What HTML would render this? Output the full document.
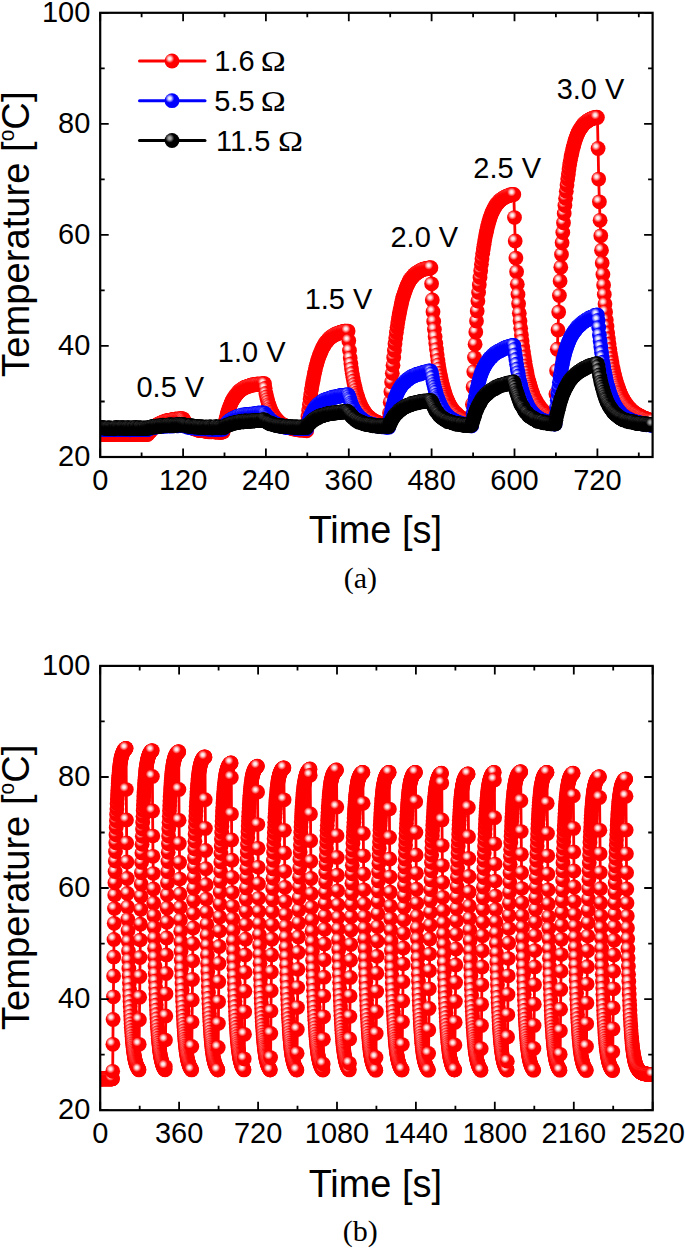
<!DOCTYPE html><html><head><meta charset="utf-8"><title>Temperature vs time</title>
<style>html,body{margin:0;padding:0;background:#fff}svg{display:block}text{font-family:"Liberation Sans", Arial, sans-serif;fill:#000}.s{font-family:"Liberation Serif", "Times New Roman", serif}</style></head><body>
<svg width="685" height="1248" viewBox="0 0 685 1248">
<rect width="685" height="1248" fill="#fff"/>
<defs>
<radialGradient id="gr" cx="0.35" cy="0.34" r="0.30" fx="0.35" fy="0.34"><stop offset="0" stop-color="#ffffff"/><stop offset="0.35" stop-color="#ffffff" stop-opacity="0.85"/><stop offset="1" stop-color="#ffffff" stop-opacity="0"/></radialGradient>
<marker id="mr" markerUnits="userSpaceOnUse" markerWidth="16" markerHeight="16" refX="8" refY="8" overflow="visible"><circle cx="8" cy="8" r="7.4" fill="#ff0000"/><circle cx="8" cy="8" r="7.4" fill="url(#gr)"/></marker>
<radialGradient id="gb" cx="0.35" cy="0.34" r="0.30" fx="0.35" fy="0.34"><stop offset="0" stop-color="#ffffff"/><stop offset="0.35" stop-color="#ffffff" stop-opacity="0.85"/><stop offset="1" stop-color="#ffffff" stop-opacity="0"/></radialGradient>
<marker id="mb" markerUnits="userSpaceOnUse" markerWidth="16" markerHeight="16" refX="8" refY="8" overflow="visible"><circle cx="8" cy="8" r="7.4" fill="#0000ff"/><circle cx="8" cy="8" r="7.4" fill="url(#gb)"/></marker>
<radialGradient id="gk" cx="0.35" cy="0.34" r="0.30" fx="0.35" fy="0.34"><stop offset="0" stop-color="#b0b0b0"/><stop offset="0.35" stop-color="#b0b0b0" stop-opacity="0.85"/><stop offset="1" stop-color="#b0b0b0" stop-opacity="0"/></radialGradient>
<marker id="mk" markerUnits="userSpaceOnUse" markerWidth="16" markerHeight="16" refX="8" refY="8" overflow="visible"><circle cx="8" cy="8" r="7.4" fill="#000000"/><circle cx="8" cy="8" r="7.4" fill="url(#gk)"/></marker>
<clipPath id="ca"><rect x="100.2" y="12.8" width="552.4" height="444.2"/></clipPath>
<clipPath id="cb"><rect x="100.2" y="665.9" width="552.5" height="444.3"/></clipPath>
</defs>
<g clip-path="url(#ca)"><polyline fill="none" stroke="#ff0000" stroke-width="2.8" stroke-linejoin="round" marker-start="url(#mr)" marker-mid="url(#mr)" marker-end="url(#mr)" points="100.2,434.3 100.9,434.1 101.6,434.3 102.3,434.3 103,434.4 103.7,434.3 104.3,434 105,434.2 105.7,434.1 106.4,434.2 107.1,434.2 107.8,434.2 108.5,434.5 109.2,434.1 109.9,434.2 110.6,434.2 111.2,434.5 111.9,434.5 112.6,434.4 113.3,434.3 114,434.2 114.7,434.2 115.4,434.1 116.1,434.3 116.8,434.2 117.5,434.2 118.2,434.3 118.8,433.9 119.5,434.1 120.2,434 120.9,434.3 121.6,434.4 122.3,434.3 123,434.3 123.7,434.1 124.4,434.2 125.1,434.3 125.7,434.4 126.4,434.3 127.1,434 127.8,434.4 128.5,434.2 129.2,434.2 129.9,434.5 130.6,434.2 131.3,434 132,434.6 132.7,434.3 133.3,434.3 134,434.4 134.7,434.2 135.4,434.2 136.1,434.5 136.8,434.1 137.5,434.1 138.2,434.1 138.9,434 139.6,434.2 140.2,434.2 140.9,434.5 141.6,434.1 142.3,434.3 143,434.3 143.7,434.4 144.4,434.4 145.1,434.3 145.8,434 146.5,434.6 147.2,434.5 147.8,434.2 148.5,433 149.2,432.2 149.9,431.8 150.6,431.1 151.3,429.8 152,429.3 152.7,428.7 153.4,427.7 154.1,427.1 154.7,426.7 155.4,426.1 156.1,425.6 156.8,424.9 157.5,424.7 158.2,424.3 158.9,423.9 159.6,423.9 160.3,423.1 161,422.8 161.7,422.6 162.3,422.7 163,422.2 163.7,421.7 164.4,421.9 165.1,421.4 165.8,421 166.5,421.2 167.2,420.6 167.9,420.6 168.6,420.5 169.2,420.3 169.9,420.1 170.6,420.1 171.3,419.8 172,419.9 172.7,419.8 173.4,419.5 174.1,419.5 174.8,419.6 175.5,419.2 176.2,419 176.8,419.3 177.5,419.4 178.2,419.1 178.9,419 179.6,419 180.3,418.6 181,419 181.7,418.6 182.4,418.9 183.1,418.8 183.8,420 184.4,421.3 185.1,422.4 185.8,423.3 186.5,424 187.2,424.6 187.9,425.1 188.6,425.8 189.3,426.2 190,426.6 190.7,427.1 191.3,427.3 192,427.7 192.7,427.8 193.4,428.3 194.1,428.7 194.8,429 195.5,429.1 196.2,429.2 196.9,429.6 197.6,429.6 198.3,429.6 198.9,430.5 199.6,430.4 200.3,430.3 201,430.4 201.7,430.5 202.4,430.7 203.1,430.6 203.8,430.8 204.5,431 205.2,430.6 205.8,431 206.5,431.3 207.2,431.3 207.9,431.3 208.6,431.4 209.3,431.9 210,431.5 210.7,431.3 211.4,431.8 212.1,431.6 212.8,431.5 213.4,431.5 214.1,431.5 214.8,432 215.5,431.8 216.2,431.9 216.9,431.7 217.6,431.7 218.3,432.4 219,431.8 219.7,432.2 220.3,431.9 221,432.3 221.7,432 222.4,431.8 223.1,432.1 223.8,428.4 224.5,425 225.2,422 225.9,419.1 226.6,416.2 227.3,413.8 227.9,411.8 228.6,409.2 229.3,407.9 230,405.7 230.7,404.2 231.4,402.6 232.1,401.1 232.8,399.8 233.5,398.5 234.2,397.7 234.8,396.7 235.5,395.4 236.2,394.7 236.9,393.9 237.6,393.2 238.3,392 239,391.4 239.7,390.7 240.4,390.5 241.1,389.8 241.8,389.5 242.4,388.8 243.1,388.2 243.8,388.2 244.5,387.5 245.2,387.2 245.9,387.1 246.6,387.1 247.3,386.3 248,386.3 248.7,386.2 249.3,385.8 250,385.6 250.7,385.2 251.4,385.5 252.1,385 252.8,384.8 253.5,384.6 254.2,384.8 254.9,384.8 255.6,384.4 256.3,384.4 256.9,384.3 257.6,384 258.3,384.2 259,384.5 259.7,384.1 260.4,384.3 261.1,383.8 261.8,383.8 262.5,383.9 263.2,383.8 263.8,383.6 264.5,383.7 265.2,388.3 265.9,393.4 266.6,396.8 267.3,399.6 268,402.1 268.7,404.6 269.4,406.4 270.1,408.6 270.8,410.2 271.4,411.8 272.1,412.7 272.8,414.4 273.5,415.4 274.2,416.5 274.9,417.5 275.6,418.5 276.3,419.2 277,419.7 277.7,420.8 278.3,421.4 279,421.9 279.7,422.7 280.4,423.4 281.1,423.8 281.8,424 282.5,424.9 283.2,425.1 283.9,425.2 284.6,425.6 285.3,426 285.9,426.2 286.6,426.6 287.3,427.1 288,427.4 288.7,427.5 289.4,427.4 290.1,427.9 290.8,428.1 291.5,428.3 292.2,428.6 292.8,428.5 293.5,428.9 294.2,428.7 294.9,429.3 295.6,429 296.3,429.3 297,429.6 297.7,429.3 298.4,429.6 299.1,430 299.8,429.9 300.4,429.8 301.1,430 301.8,429.8 302.5,429.9 303.2,430 303.9,430.1 304.6,430 305.3,430.2 306,430.3 306.7,430.8 307.3,423.1 308,416.4 308.7,410.4 309.4,404.7 310.1,399 310.8,394.6 311.5,389.6 312.2,385 312.9,381.6 313.6,377.7 314.3,374 314.9,371.2 315.6,368.1 316.3,365.3 317,363.1 317.7,360.6 318.4,358.3 319.1,356.2 319.8,354.4 320.5,352.7 321.2,351.2 321.9,349.6 322.5,348 323.2,346.8 323.9,345.7 324.6,344.6 325.3,343 326,342.2 326.7,341.4 327.4,341.1 328.1,339.8 328.8,339.1 329.4,338.2 330.1,337.8 330.8,337.3 331.5,336.7 332.2,336.6 332.9,335.6 333.6,335.3 334.3,335.1 335,334.4 335.7,334 336.4,334.2 337,333.8 337.7,333.3 338.4,333.1 339.1,332.9 339.8,332.8 340.5,332.1 341.2,332.1 341.9,332.3 342.6,332.1 343.3,331.5 343.9,331.5 344.6,331.2 345.3,331.2 346,331.4 346.7,331.1 347.4,331.4 348.1,331.1 348.8,340.8 349.5,350.6 350.2,358.1 350.9,363.8 351.5,368.8 352.2,373.3 352.9,377.3 353.6,381 354.3,384.5 355,387.4 355.7,390.3 356.4,393.1 357.1,395.5 357.8,397.6 358.4,399.7 359.1,401.5 359.8,403.3 360.5,404.8 361.2,406.4 361.9,407.9 362.6,408.9 363.3,410 364,411.2 364.7,412.3 365.4,413.2 366,414.3 366.7,415.2 367.4,415.7 368.1,416.6 368.8,416.9 369.5,417.9 370.2,418.7 370.9,419 371.6,419 372.3,419.8 372.9,420.5 373.6,420.8 374.3,421 375,421.3 375.7,421.7 376.4,421.8 377.1,422.3 377.8,422.7 378.5,422.9 379.2,423 379.9,423.3 380.5,423.6 381.2,424.1 381.9,424.2 382.6,424.2 383.3,424.6 384,424.6 384.7,424.8 385.4,424.9 386.1,425.3 386.8,425 387.4,425.3 388.1,425.7 388.8,425.8 389.5,413.1 390.2,402.3 390.9,391.7 391.6,382 392.3,373.3 393,365.2 393.7,357.4 394.4,350.4 395,343.8 395.7,337.9 396.4,332.5 397.1,327.3 397.8,322.7 398.5,318.4 399.2,314.4 399.9,310.8 400.6,307.2 401.3,304.4 401.9,301.4 402.6,298.6 403.3,296.4 404,293.9 404.7,292.1 405.4,289.9 406.1,287.9 406.8,286.3 407.5,284.8 408.2,283.5 408.9,282.3 409.5,280.6 410.2,279.7 410.9,278.6 411.6,278 412.3,277 413,276.4 413.7,275.3 414.4,274.6 415.1,274.4 415.8,273.5 416.4,272.8 417.1,272.7 417.8,272.3 418.5,271.7 419.2,271.3 419.9,271 420.6,270.5 421.3,270.1 422,269.8 422.7,269.5 423.4,269.1 424,268.9 424.7,269.2 425.4,268.8 426.1,268.7 426.8,268.6 427.5,268.3 428.2,268.1 428.9,267.9 429.6,268.1 430.3,268 430.9,267.7 431.6,283.8 432.3,299.9 433,311.7 433.7,321.4 434.4,329.4 435.1,336.8 435.8,343.4 436.5,349.6 437.2,355 437.9,360.5 438.5,364.8 439.2,368.9 439.9,373.1 440.6,376.4 441.3,379.8 442,383.1 442.7,385.8 443.4,388.4 444.1,390.7 444.8,392.9 445.4,395.1 446.1,397.2 446.8,398.8 447.5,400.5 448.2,401.9 448.9,403.4 449.6,404.9 450.3,406.2 451,407.2 451.7,408.4 452.4,409.4 453,410.2 453.7,411.2 454.4,411.9 455.1,412.6 455.8,413.5 456.5,413.7 457.2,414.8 457.9,415.2 458.6,415.9 459.3,416.3 460,417.4 460.6,417.6 461.3,417.9 462,418.2 462.7,418.3 463.4,419.1 464.1,419.3 464.8,419.7 465.5,420 466.2,420.4 466.9,420.8 467.5,421 468.2,421.5 468.9,421.4 469.6,422 470.3,422 471,422 471.7,422.6 472.4,404.2 473.1,387.1 473.8,371.7 474.5,357.6 475.1,344.2 475.8,332.1 476.5,320.9 477.2,310.9 477.9,301.1 478.6,292.4 479.3,284.7 480,277.4 480.7,270.7 481.4,264.2 482,258.8 482.7,253.3 483.4,248.7 484.1,244.3 484.8,240 485.5,236.1 486.2,232.8 486.9,229.8 487.6,226.6 488.3,224 489,221.5 489.6,219 490.3,217 491,215.3 491.7,213 492.4,211.8 493.1,210.2 493.8,209 494.5,207.6 495.2,206.7 495.9,205.1 496.5,204.1 497.2,203.7 497.9,202.9 498.6,202.1 499.3,200.9 500,200.6 500.7,199.9 501.4,199.4 502.1,198.8 502.8,198.5 503.5,197.9 504.1,197.8 504.8,197.2 505.5,196.8 506.2,196.4 506.9,196.3 507.6,196.1 508.3,195.7 509,195.6 509.7,195 510.4,195 511,194.9 511.7,194.8 512.4,194.7 513.1,194.6 513.8,194.4 514.5,217.6 515.2,241 515.9,258.1 516.6,271.8 517.3,284.2 518,294.6 518.6,303.8 519.3,313.3 520,321 520.7,328.2 521.4,334.9 522.1,341.1 522.8,346.9 523.5,352 524.2,356.9 524.9,361.3 525.5,365.8 526.2,369.5 526.9,372.8 527.6,376.3 528.3,379.3 529,381.8 529.7,384.6 530.4,386.8 531.1,389 531.8,391.2 532.5,393.1 533.1,395 533.8,396.9 534.5,398.2 535.2,399.6 535.9,401.1 536.6,402.3 537.3,403.4 538,404.8 538.7,405.6 539.4,406.4 540,407.7 540.7,408.5 541.4,409.3 542.1,409.8 542.8,410.8 543.5,411.4 544.2,412.3 544.9,412.8 545.6,413.4 546.3,414.3 547,414.3 547.6,414.8 548.3,415.8 549,415.8 549.7,416.4 550.4,416.7 551.1,417.1 551.8,417.8 552.5,417.9 553.2,418 553.9,418.7 554.5,419.1 555.2,419.4 555.9,394.1 556.6,370.7 557.3,349.2 558,330 558.7,312.1 559.4,295.4 560.1,280.9 560.8,267.2 561.5,254.4 562.1,242.8 562.8,232.5 563.5,222.8 564.2,213.6 564.9,205.5 565.6,198.3 566.3,191.2 567,185 567.7,179 568.4,173.9 569,169 569.7,164.6 570.4,160.3 571.1,156.5 571.8,153.4 572.5,150.1 573.2,147.4 573.9,144.7 574.6,142.1 575.3,139.8 576,138.1 576.6,136.2 577.3,134.4 578,133.1 578.7,131.5 579.4,130.3 580.1,128.9 580.8,128 581.5,127.2 582.2,125.9 582.9,125 583.5,124.4 584.2,123.4 584.9,122.9 585.6,122.4 586.3,121.7 587,121.5 587.7,120.9 588.4,120.4 589.1,119.8 589.8,119.6 590.5,119.2 591.1,119.1 591.8,118.7 592.5,118.2 593.2,118.3 593.9,117.6 594.6,117.9 595.3,117.6 596,117.4 596.7,117.2 597.4,117.4 598.1,148.5 598.7,179.1 599.4,201.8 600.1,220.3 600.8,235.8 601.5,250.2 602.2,262.9 602.9,274.4 603.6,285.1 604.3,294.6 605,304 605.6,312 606.3,320.1 607,326.4 607.7,333 608.4,338.7 609.1,344 609.8,349.4 610.5,354.1 611.2,358.4 611.9,362.5 612.6,366.2 613.2,369.4 613.9,372.7 614.6,375.6 615.3,378.4 616,380.8 616.7,383.3 617.4,385.6 618.1,387.6 618.8,389.6 619.5,391.6 620.1,392.9 620.8,394.6 621.5,396.4 622.2,397.4 622.9,398.9 623.6,400.4 624.3,401.1 625,402.4 625.7,403.3 626.4,404.4 627.1,405.4 627.7,406.5 628.4,406.9 629.1,407.8 629.8,408.6 630.5,409.2 631.2,409.9 631.9,410.5 632.6,411.3 633.3,411.8 634,412.7 634.6,412.9 635.3,413.2 636,413.6 636.7,414.3 637.4,414.7 638.1,414.9 638.8,415.6 639.5,415.8 640.2,416 640.9,416.6 641.6,416.7 642.2,417.4 642.9,417.5 643.6,417.9 644.3,418.1 645,418.2 645.7,418.3 646.4,419.1 647.1,419.3 647.8,419.3 648.5,419.8 649.1,419.8 649.8,420 650.5,420.3 651.2,420.4 651.9,420.9 652.6,420.7"/></g>
<g clip-path="url(#ca)"><polyline fill="none" stroke="#0000ff" stroke-width="2.8" stroke-linejoin="round" marker-start="url(#mb)" marker-mid="url(#mb)" marker-end="url(#mb)" points="100.2,429.6 100.9,429.4 101.6,429.4 102.3,429.3 103,429 103.7,429.2 104.3,429.3 105,429.1 105.7,428.9 106.4,429.2 107.1,429.2 107.8,429 108.5,429.2 109.2,429.5 109.9,428.7 110.6,428.7 111.2,429.7 111.9,429.2 112.6,429.1 113.3,429 114,429.1 114.7,429.3 115.4,429.5 116.1,429.2 116.8,429 117.5,429.5 118.2,429.5 118.8,429.2 119.5,429.7 120.2,429.3 120.9,429.3 121.6,429.1 122.3,429.4 123,429.4 123.7,429.3 124.4,429.2 125.1,429.4 125.7,429.2 126.4,429.1 127.1,429 127.8,428.9 128.5,429.4 129.2,429.3 129.9,429.8 130.6,428.8 131.3,429.4 132,429.2 132.7,429.1 133.3,429.5 134,429.1 134.7,429.2 135.4,429.6 136.1,429.2 136.8,429 137.5,429.7 138.2,429.1 138.9,429.2 139.6,429.1 140.2,429.1 140.9,428.9 141.6,429.3 142.3,429 143,429.3 143.7,429.1 144.4,429.4 145.1,429.3 145.8,428.9 146.5,429.1 147.2,429.3 147.8,429.5 148.5,429.1 149.2,428.6 149.9,428.2 150.6,428 151.3,427.8 152,427.7 152.7,427.2 153.4,427.5 154.1,427.3 154.7,426.9 155.4,426.9 156.1,426.9 156.8,426.9 157.5,426.7 158.2,426.4 158.9,426.4 159.6,426.7 160.3,426.2 161,426.2 161.7,426.4 162.3,426 163,426.1 163.7,426.1 164.4,425.8 165.1,425.6 165.8,426.1 166.5,425.8 167.2,426 167.9,425.3 168.6,425.9 169.2,425.5 169.9,425.8 170.6,425.5 171.3,425.2 172,426.2 172.7,425.7 173.4,425.5 174.1,425.6 174.8,425.7 175.5,425 176.2,425.5 176.8,425.8 177.5,425.3 178.2,425.8 178.9,425.2 179.6,425.5 180.3,425.4 181,425.1 181.7,425.4 182.4,425.7 183.1,425.7 183.8,425.3 184.4,425.6 185.1,426.2 185.8,426.1 186.5,426.3 187.2,426.5 187.9,427.3 188.6,427 189.3,426.9 190,427.1 190.7,427.2 191.3,428.1 192,427.6 192.7,427.6 193.4,427.2 194.1,428.1 194.8,428.1 195.5,428 196.2,427.9 196.9,428.3 197.6,428 198.3,428.5 198.9,428.3 199.6,428.5 200.3,428.4 201,428.7 201.7,428.9 202.4,428.3 203.1,428.5 203.8,428.8 204.5,428.6 205.2,428.5 205.8,428.9 206.5,428.8 207.2,428.7 207.9,428.7 208.6,428.9 209.3,429.3 210,428.6 210.7,428.8 211.4,428.9 212.1,429 212.8,428.9 213.4,429 214.1,429.2 214.8,429.1 215.5,429.1 216.2,429.1 216.9,429.2 217.6,428.9 218.3,429.3 219,428.9 219.7,429.3 220.3,429 221,428.7 221.7,429 222.4,429.2 223.1,429.1 223.8,427.8 224.5,427 225.2,425.7 225.9,424.6 226.6,423.9 227.3,422.9 227.9,422.1 228.6,421.4 229.3,420.8 230,420.3 230.7,420 231.4,419.5 232.1,419.1 232.8,418.7 233.5,418.3 234.2,418.4 234.8,417.7 235.5,417.4 236.2,417.3 236.9,416.9 237.6,416.5 238.3,416.5 239,415.8 239.7,416.6 240.4,415.9 241.1,416.1 241.8,415.4 242.4,414.8 243.1,415.9 243.8,415.1 244.5,414.9 245.2,415 245.9,414.7 246.6,415.2 247.3,414.4 248,414.4 248.7,414.4 249.3,414.5 250,414.1 250.7,414.3 251.4,414.1 252.1,414.2 252.8,414.5 253.5,413.9 254.2,413.8 254.9,413.6 255.6,413.9 256.3,413.7 256.9,413.5 257.6,413.5 258.3,413.2 259,413 259.7,413.6 260.4,413.8 261.1,413.1 261.8,413 262.5,413 263.2,413 263.8,413.3 264.5,413.3 265.2,413.7 265.9,415.2 266.6,416.4 267.3,417.1 268,417.2 268.7,418.1 269.4,419.4 270.1,420 270.8,420.4 271.4,421.2 272.1,421.3 272.8,422.1 273.5,422.8 274.2,422.7 274.9,423.5 275.6,423.7 276.3,424 277,424.4 277.7,424.6 278.3,425.1 279,425.6 279.7,425.9 280.4,425.9 281.1,426 281.8,426 282.5,426.2 283.2,426.2 283.9,426.5 284.6,426.8 285.3,426.9 285.9,427.4 286.6,427.1 287.3,427 288,427.1 288.7,427.4 289.4,427.5 290.1,427.3 290.8,427.6 291.5,427.5 292.2,427.6 292.8,427.7 293.5,427.6 294.2,428 294.9,428.1 295.6,428.2 296.3,428.3 297,427.8 297.7,427.8 298.4,428.2 299.1,428.1 299.8,428 300.4,428.1 301.1,428.1 301.8,428.7 302.5,428.6 303.2,428.4 303.9,428.2 304.6,428.5 305.3,428.7 306,428.6 306.7,428.7 307.3,426.1 308,423.1 308.7,421.3 309.4,419.2 310.1,416.9 310.8,415.4 311.5,414.1 312.2,412.9 312.9,411.4 313.6,409.9 314.3,409.1 314.9,408 315.6,407.3 316.3,406.4 317,405.8 317.7,405 318.4,404.1 319.1,404.1 319.8,403.3 320.5,402.7 321.2,402.4 321.9,401.9 322.5,401.2 323.2,400.6 323.9,400.5 324.6,400.2 325.3,400.3 326,399.3 326.7,399.4 327.4,399.1 328.1,399.1 328.8,398.6 329.4,398.6 330.1,398.2 330.8,397.9 331.5,397.8 332.2,397.5 332.9,397.6 333.6,396.9 334.3,397.2 335,397.3 335.7,396.8 336.4,396.8 337,396.7 337.7,396.4 338.4,396.1 339.1,396.3 339.8,396 340.5,395.5 341.2,395.6 341.9,395.7 342.6,395.5 343.3,395.5 343.9,395.3 344.6,395.1 345.3,395.2 346,395.6 346.7,395 347.4,395.1 348.1,394.7 348.8,396.6 349.5,398.7 350.2,400.3 350.9,402.9 351.5,404.7 352.2,406.4 352.9,408.1 353.6,409.4 354.3,410.2 355,411.6 355.7,413 356.4,413.9 357.1,414.4 357.8,415.6 358.4,416.4 359.1,417 359.8,417.4 360.5,418 361.2,418.8 361.9,419.5 362.6,420.1 363.3,420.2 364,420.7 364.7,421.5 365.4,421.8 366,422.2 366.7,422.6 367.4,423 368.1,423.5 368.8,423.6 369.5,424.1 370.2,423.7 370.9,424.1 371.6,424.7 372.3,424.4 372.9,424.7 373.6,425.5 374.3,424.8 375,425.2 375.7,425.1 376.4,425.9 377.1,425.7 377.8,425.8 378.5,426 379.2,426.1 379.9,426 380.5,426.7 381.2,426.7 381.9,426.8 382.6,426.7 383.3,426.8 384,426.7 384.7,426.8 385.4,426.9 386.1,427.1 386.8,427.1 387.4,426.9 388.1,427 388.8,427.2 389.5,422.8 390.2,418.3 390.9,415.1 391.6,411.4 392.3,408.2 393,405.8 393.7,403 394.4,401.1 395,398.5 395.7,396.8 396.4,395.4 397.1,393.3 397.8,392.1 398.5,390.3 399.2,389.4 399.9,388.2 400.6,387 401.3,386.1 401.9,385.1 402.6,384.4 403.3,383.3 404,382.7 404.7,382 405.4,382 406.1,380.5 406.8,380.2 407.5,380.1 408.2,379.1 408.9,378.6 409.5,378 410.2,378 410.9,377.1 411.6,377.1 412.3,376.1 413,376.3 413.7,375.8 414.4,375.7 415.1,375.6 415.8,374.8 416.4,374.6 417.1,374.2 417.8,374.1 418.5,374.2 419.2,374.2 419.9,373.7 420.6,373.5 421.3,373.4 422,372.8 422.7,372.7 423.4,372.7 424,372.4 424.7,372.3 425.4,372 426.1,371.8 426.8,371.6 427.5,371.8 428.2,371.8 428.9,371 429.6,371.2 430.3,370.8 430.9,371.3 431.6,373.8 432.3,377.5 433,381.3 433.7,384.3 434.4,387 435.1,389.7 435.8,392.1 436.5,395.1 437.2,397.4 437.9,399 438.5,400.7 439.2,402.6 439.9,404.6 440.6,405.6 441.3,407 442,408.3 442.7,409.8 443.4,410.7 444.1,411.6 444.8,412.9 445.4,414.1 446.1,414.4 446.8,415.1 447.5,416 448.2,416.4 448.9,417.4 449.6,417.9 450.3,418.5 451,418.8 451.7,419 452.4,419.9 453,419.8 453.7,420.3 454.4,420.8 455.1,421.2 455.8,421.3 456.5,422 457.2,422.3 457.9,422.8 458.6,422.7 459.3,422.7 460,423.1 460.6,423.4 461.3,423.7 462,423.8 462.7,424.3 463.4,423.9 464.1,424.4 464.8,424.7 465.5,424.8 466.2,425 466.9,424.7 467.5,424.8 468.2,425.4 468.9,425 469.6,425.2 470.3,425.6 471,425.9 471.7,425.8 472.4,419.4 473.1,413.3 473.8,408.2 474.5,403.8 475.1,398.9 475.8,395.3 476.5,391.2 477.2,388.3 477.9,385.2 478.6,382.5 479.3,379.9 480,377.2 480.7,375.1 481.4,373.2 482,371.5 482.7,370.3 483.4,368.5 484.1,367.1 484.8,365.9 485.5,364.3 486.2,363.4 486.9,362.4 487.6,361.4 488.3,360.7 489,359.3 489.6,358.3 490.3,357.8 491,357.3 491.7,357 492.4,355.8 493.1,354.9 493.8,354.5 494.5,353.9 495.2,353.2 495.9,352.8 496.5,352.7 497.2,351.9 497.9,351.5 498.6,351.6 499.3,351 500,350.9 500.7,350.2 501.4,349.7 502.1,349.7 502.8,349.6 503.5,348.6 504.1,348.5 504.8,348 505.5,348.3 506.2,347.5 506.9,347.1 507.6,346.8 508.3,347.1 509,346.7 509.7,346.6 510.4,346.1 511,345.9 511.7,345.9 512.4,346.1 513.1,345.4 513.8,345.5 514.5,349.3 515.2,354.8 515.9,359.5 516.6,364.2 517.3,368.9 518,372.6 518.6,376 519.3,379.9 520,382.8 520.7,385.6 521.4,388.2 522.1,390.9 522.8,393.6 523.5,395.7 524.2,397.4 524.9,399.2 525.5,400.5 526.2,402.8 526.9,403.8 527.6,405.3 528.3,407.1 529,408.1 529.7,409 530.4,410.2 531.1,411.1 531.8,411.9 532.5,413 533.1,413.5 533.8,414.5 534.5,415.1 535.2,415.5 535.9,416.4 536.6,416.7 537.3,417 538,417.8 538.7,418.3 539.4,418.6 540,419.2 540.7,419.3 541.4,420.2 542.1,420.1 542.8,420.7 543.5,421 544.2,420.7 544.9,421.6 545.6,421.3 546.3,421.8 547,421.8 547.6,422.6 548.3,422.3 549,422.4 549.7,423 550.4,423.1 551.1,422.7 551.8,423.4 552.5,423.7 553.2,423.9 553.9,423.8 554.5,423.9 555.2,424.1 555.9,415 556.6,407.5 557.3,400.2 558,393.4 558.7,388 559.4,382.2 560.1,377.1 560.8,373.3 561.5,369.1 562.1,365.3 562.8,362.1 563.5,358.4 564.2,356 564.9,352.9 565.6,350.2 566.3,348.6 567,346.2 567.7,344.6 568.4,342.2 569,340.9 569.7,339.3 570.4,337.7 571.1,336.3 571.8,335.2 572.5,334 573.2,333 573.9,331.8 574.6,331.1 575.3,329.9 576,329.5 576.6,328.3 577.3,327 578,326.7 578.7,326.2 579.4,325.2 580.1,324.9 580.8,324.4 581.5,323.6 582.2,322.7 582.9,322.3 583.5,321.9 584.2,321.6 584.9,321.1 585.6,320.2 586.3,320 587,319.8 587.7,319.7 588.4,319.1 589.1,317.9 589.8,318.3 590.5,317.8 591.1,317.4 591.8,317.1 592.5,316.8 593.2,316.8 593.9,316.4 594.6,315.5 595.3,315.8 596,315.2 596.7,315.5 597.4,314.9 598.1,320.4 598.7,327.6 599.4,334.9 600.1,340.9 600.8,346.8 601.5,352.5 602.2,357.3 602.9,362.2 603.6,366.5 604.3,370.3 605,374.6 605.6,377.4 606.3,380.8 607,383.9 607.7,386.4 608.4,388.6 609.1,391.2 609.8,393.1 610.5,395.6 611.2,397.6 611.9,398.7 612.6,400.6 613.2,402 613.9,403.8 614.6,404.8 615.3,406.1 616,407.2 616.7,408.4 617.4,409.1 618.1,410.5 618.8,411.4 619.5,412.4 620.1,412.5 620.8,413.7 621.5,414.4 622.2,415 622.9,415.5 623.6,416.3 624.3,416.6 625,417.2 625.7,417.6 626.4,418.1 627.1,418.3 627.7,418.8 628.4,419.1 629.1,419.4 629.8,419.7 630.5,420.6 631.2,420.5 631.9,420.9 632.6,420.8 633.3,421.6 634,421.6 634.6,421.7 635.3,422 636,421.9 636.7,422.4 637.4,422.3 638.1,423 638.8,423.3 639.5,422.7 640.2,423.1 640.9,423.2 641.6,423.4 642.2,423.5 642.9,424 643.6,423.7 644.3,424.1 645,423.9 645.7,424.2 646.4,424.8 647.1,424.7 647.8,424.3 648.5,424.7 649.1,424.8 649.8,424.8 650.5,425 651.2,425.1 651.9,425 652.6,425.1"/></g>
<g clip-path="url(#ca)"><polyline fill="none" stroke="#000000" stroke-width="2.8" stroke-linejoin="round" marker-start="url(#mk)" marker-mid="url(#mk)" marker-end="url(#mk)" points="100.2,427.7 100.9,428.1 101.6,427.6 102.3,427.6 103,427.7 103.7,427.8 104.3,428.1 105,428.1 105.7,428.2 106.4,428.3 107.1,428.1 107.8,428.3 108.5,427.7 109.2,428 109.9,428.3 110.6,428.7 111.2,428.1 111.9,428.2 112.6,428.4 113.3,428.4 114,428.8 114.7,428 115.4,428.1 116.1,427.4 116.8,428.1 117.5,428.2 118.2,427.7 118.8,428.1 119.5,428.1 120.2,428.2 120.9,428.3 121.6,427.7 122.3,427.8 123,427.7 123.7,428.2 124.4,428.1 125.1,428.4 125.7,427.9 126.4,428.5 127.1,428 127.8,427.8 128.5,427.7 129.2,428.4 129.9,427.8 130.6,428.3 131.3,428.3 132,428.5 132.7,427.8 133.3,427.7 134,428.3 134.7,428.3 135.4,428.2 136.1,427.4 136.8,427.8 137.5,428.3 138.2,428.6 138.9,428.3 139.6,427.8 140.2,427.6 140.9,428.2 141.6,428.3 142.3,428.3 143,428.7 143.7,427.9 144.4,428.4 145.1,427.8 145.8,428.6 146.5,428.5 147.2,428 147.8,428.3 148.5,427.7 149.2,427.7 149.9,427.8 150.6,427.2 151.3,426.9 152,427.6 152.7,426.4 153.4,426.6 154.1,426.4 154.7,427 155.4,426.6 156.1,426.4 156.8,425.9 157.5,426.5 158.2,426.3 158.9,426.5 159.6,426 160.3,425.7 161,426.2 161.7,425.9 162.3,425.5 163,425.2 163.7,425.4 164.4,425.6 165.1,425.8 165.8,425.7 166.5,425.6 167.2,425.3 167.9,425.3 168.6,424.8 169.2,425.2 169.9,425.5 170.6,424.7 171.3,424.9 172,425.1 172.7,425.3 173.4,425.6 174.1,425.3 174.8,424.8 175.5,425.2 176.2,425.3 176.8,424.9 177.5,424.9 178.2,424.7 178.9,424.7 179.6,424.5 180.3,425.1 181,424.6 181.7,425.1 182.4,424.6 183.1,424.7 183.8,424.9 184.4,424.8 185.1,425.3 185.8,425.1 186.5,425.3 187.2,425.7 187.9,426 188.6,426.2 189.3,426.2 190,426.2 190.7,426.3 191.3,425.5 192,426.2 192.7,426.3 193.4,426.8 194.1,426.8 194.8,426.8 195.5,426.7 196.2,427.1 196.9,426.4 197.6,427 198.3,426.6 198.9,427.6 199.6,427 200.3,426.9 201,427 201.7,426.9 202.4,427 203.1,427.1 203.8,427.7 204.5,427.4 205.2,427.8 205.8,427 206.5,427.1 207.2,427.3 207.9,427.5 208.6,427.4 209.3,426.8 210,426.8 210.7,427.3 211.4,427 212.1,427.8 212.8,427.9 213.4,427.5 214.1,427.6 214.8,427.5 215.5,427.3 216.2,426.5 216.9,427.6 217.6,427.4 218.3,427.3 219,427.4 219.7,427.2 220.3,426.9 221,427.8 221.7,427.4 222.4,427.5 223.1,427.3 223.8,427.4 224.5,427.1 225.2,426.8 225.9,425.7 226.6,425.4 227.3,425.2 227.9,425.6 228.6,424.7 229.3,424.6 230,424.5 230.7,424.2 231.4,423.5 232.1,423.4 232.8,423.4 233.5,423 234.2,423.2 234.8,422.9 235.5,422.7 236.2,422.4 236.9,422.5 237.6,422.4 238.3,422.3 239,422.3 239.7,421.4 240.4,421.8 241.1,421.7 241.8,421.1 242.4,421.3 243.1,422.1 243.8,421.4 244.5,421.2 245.2,420.9 245.9,421 246.6,421.1 247.3,421.6 248,421.4 248.7,421.1 249.3,420.9 250,421.3 250.7,421.1 251.4,421 252.1,420.9 252.8,420.8 253.5,420.9 254.2,421.1 254.9,420.4 255.6,420.3 256.3,420.7 256.9,420.4 257.6,420.5 258.3,420.4 259,420.4 259.7,420.7 260.4,420.3 261.1,420.2 261.8,420.7 262.5,419.9 263.2,419.8 263.8,419.9 264.5,419.8 265.2,420.5 265.9,421.3 266.6,421.8 267.3,422.3 268,422.4 268.7,422.8 269.4,422.9 270.1,423.9 270.8,423 271.4,423.3 272.1,424.1 272.8,424.2 273.5,424.4 274.2,424.7 274.9,425 275.6,425.1 276.3,425.5 277,425.3 277.7,425.5 278.3,425.5 279,426 279.7,425.8 280.4,425.9 281.1,425.9 281.8,426.4 282.5,426.1 283.2,426 283.9,426.2 284.6,426.5 285.3,426.6 285.9,426.6 286.6,426.4 287.3,426.2 288,426.7 288.7,426.9 289.4,426.7 290.1,426.7 290.8,427.1 291.5,427.1 292.2,426.9 292.8,426.7 293.5,427.3 294.2,427.3 294.9,426.9 295.6,427.4 296.3,427 297,427 297.7,427.1 298.4,427.4 299.1,427.1 299.8,427.2 300.4,427.1 301.1,427.4 301.8,426.9 302.5,427.7 303.2,427.3 303.9,427.2 304.6,427 305.3,427.4 306,427.1 306.7,427.4 307.3,426.1 308,424.9 308.7,424.6 309.4,423.6 310.1,423.2 310.8,422 311.5,421.3 312.2,421 312.9,420.8 313.6,419.8 314.3,419.1 314.9,418.7 315.6,418.3 316.3,418.6 317,418 317.7,417 318.4,417.4 319.1,416.5 319.8,415.9 320.5,416 321.2,415.6 321.9,415.8 322.5,415.8 323.2,415.3 323.9,415.1 324.6,414.8 325.3,414.4 326,414.5 326.7,414.2 327.4,414 328.1,414 328.8,413.3 329.4,413.6 330.1,413.5 330.8,413.5 331.5,413.5 332.2,412.8 332.9,413 333.6,413.3 334.3,413 335,412.8 335.7,412.8 336.4,412.3 337,412.8 337.7,412.3 338.4,412.3 339.1,412.6 339.8,412.2 340.5,412.1 341.2,411.9 341.9,412.1 342.6,411.8 343.3,412.3 343.9,412.1 344.6,411.5 345.3,411.4 346,411.6 346.7,411.7 347.4,411.2 348.1,412.1 348.8,412.5 349.5,413.1 350.2,414 350.9,415.4 351.5,416.4 352.2,416.2 352.9,417.3 353.6,418.2 354.3,418.6 355,418.9 355.7,420.3 356.4,419.8 357.1,420.3 357.8,421.5 358.4,421.1 359.1,422.2 359.8,421.7 360.5,422.2 361.2,422 361.9,423 362.6,423.1 363.3,423 364,423.7 364.7,423.9 365.4,424 366,424.1 366.7,424.5 367.4,424.2 368.1,424.4 368.8,424.6 369.5,424.3 370.2,425 370.9,424.6 371.6,425.2 372.3,425 372.9,425.8 373.6,425.3 374.3,425.5 375,425.6 375.7,425.7 376.4,425.7 377.1,425.9 377.8,426.4 378.5,426 379.2,426 379.9,426 380.5,426.2 381.2,426 381.9,425.8 382.6,426.1 383.3,426.2 384,425.8 384.7,425.9 385.4,425.9 386.1,425.9 386.8,426.4 387.4,426.3 388.1,426 388.8,426.5 389.5,424.7 390.2,423.1 390.9,421.7 391.6,420.5 392.3,419 393,418.1 393.7,416.8 394.4,415.8 395,415 395.7,414.1 396.4,413.8 397.1,413.1 397.8,412.2 398.5,411.2 399.2,410.3 399.9,410.5 400.6,409.5 401.3,409.4 401.9,408.8 402.6,408.3 403.3,407.6 404,407.3 404.7,406.6 405.4,406.9 406.1,406 406.8,405.7 407.5,405.6 408.2,405.2 408.9,405.2 409.5,405.1 410.2,404.7 410.9,404.5 411.6,403.3 412.3,404 413,403.2 413.7,403.4 414.4,403.2 415.1,402.9 415.8,403.1 416.4,402.5 417.1,402.5 417.8,402.8 418.5,402.1 419.2,402 419.9,401.9 420.6,401.4 421.3,401.9 422,401.5 422.7,401.3 423.4,401.6 424,400.9 424.7,401.6 425.4,401.4 426.1,400.8 426.8,401.2 427.5,400.8 428.2,401.1 428.9,400.6 429.6,400.8 430.3,400.3 430.9,400.8 431.6,401.5 432.3,403.4 433,404.9 433.7,406.4 434.4,407.7 435.1,409.4 435.8,410.9 436.5,411.3 437.2,412.5 437.9,413.3 438.5,413.9 439.2,415.4 439.9,415.8 440.6,416.4 441.3,417.2 442,417.4 442.7,418.1 443.4,418.8 444.1,419.3 444.8,419.2 445.4,420 446.1,420.1 446.8,420.5 447.5,421.4 448.2,421.5 448.9,421.5 449.6,421.7 450.3,421.8 451,422 451.7,422.2 452.4,422.8 453,422.9 453.7,422.8 454.4,423.3 455.1,423.1 455.8,424 456.5,423.5 457.2,423.8 457.9,424.4 458.6,423.7 459.3,424 460,424.2 460.6,424.6 461.3,424.5 462,424.1 462.7,424.8 463.4,425.6 464.1,425 464.8,425.1 465.5,424.9 466.2,425 466.9,425.2 467.5,425.3 468.2,424.8 468.9,425.5 469.6,424.7 470.3,425.4 471,425.6 471.7,425.1 472.4,422.4 473.1,420.3 473.8,417.5 474.5,416 475.1,413.7 475.8,411.3 476.5,409.9 477.2,408.5 477.9,406.5 478.6,405 479.3,403.9 480,403.1 480.7,401.6 481.4,400.3 482,399.1 482.7,397.9 483.4,397.6 484.1,396.8 484.8,395.8 485.5,394.7 486.2,394.6 486.9,393.3 487.6,393.8 488.3,392.2 489,392.1 489.6,391.2 490.3,390.6 491,390.7 491.7,389.9 492.4,389.4 493.1,388.8 493.8,388.9 494.5,388.5 495.2,388.4 495.9,386.8 496.5,387.2 497.2,386.9 497.9,387 498.6,386 499.3,386.1 500,385.3 500.7,385.2 501.4,385.2 502.1,384.8 502.8,385.1 503.5,384.6 504.1,384.5 504.8,384.5 505.5,383.9 506.2,383.8 506.9,383.2 507.6,384.3 508.3,383.4 509,383.3 509.7,383 510.4,382.6 511,382.5 511.7,382.4 512.4,382.4 513.1,382 513.8,381.9 514.5,384.7 515.2,387.2 515.9,390.1 516.6,392.6 517.3,394.5 518,396.6 518.6,398.6 519.3,400.6 520,402.1 520.7,403.9 521.4,405 522.1,406.2 522.8,407.1 523.5,408.4 524.2,410.1 524.9,410.9 525.5,412 526.2,412.5 526.9,412.8 527.6,413.9 528.3,415.4 529,415.8 529.7,416.4 530.4,416.4 531.1,417.1 531.8,417.5 532.5,417.5 533.1,418.7 533.8,419.1 534.5,418.7 535.2,419.4 535.9,420.1 536.6,420.7 537.3,420.9 538,421.4 538.7,420.9 539.4,421.2 540,421.1 540.7,421.6 541.4,422 542.1,422.2 542.8,421.6 543.5,422.8 544.2,422.4 544.9,422.6 545.6,422.6 546.3,423 547,422.9 547.6,422.9 548.3,423.3 549,423.5 549.7,423.5 550.4,423.8 551.1,423.7 551.8,423.8 552.5,423.7 553.2,423.5 553.9,423.6 554.5,424.1 555.2,423.9 555.9,420.2 556.6,416.5 557.3,413.4 558,410.3 558.7,407.7 559.4,405.1 560.1,402.2 560.8,399.8 561.5,397.9 562.1,395.9 562.8,394.1 563.5,392.6 564.2,391.3 564.9,389.1 565.6,387.8 566.3,386.7 567,385.5 567.7,383.7 568.4,383.4 569,381.4 569.7,380.7 570.4,379.3 571.1,379.3 571.8,378.2 572.5,377.6 573.2,376.6 573.9,376 574.6,375.5 575.3,374.3 576,374.2 576.6,373.6 577.3,372.7 578,372.5 578.7,372 579.4,371.3 580.1,371 580.8,370.8 581.5,370.1 582.2,369.7 582.9,368.8 583.5,369.2 584.2,368.2 584.9,368.4 585.6,367.9 586.3,367.6 587,367.1 587.7,366.7 588.4,366.1 589.1,366.5 589.8,365.7 590.5,365.6 591.1,365.4 591.8,365.6 592.5,364.9 593.2,364.9 593.9,364.6 594.6,364.6 595.3,364.1 596,363.8 596.7,363.6 597.4,363.8 598.1,366.5 598.7,370.5 599.4,374.9 600.1,377.8 600.8,381.8 601.5,384.2 602.2,387 602.9,389.3 603.6,392 604.3,394.4 605,396.6 605.6,398.6 606.3,399.8 607,401.7 607.7,403.3 608.4,404.4 609.1,406 609.8,407.1 610.5,408.3 611.2,408.7 611.9,409.8 612.6,411.1 613.2,412.3 613.9,412.6 614.6,413.4 615.3,414 616,414.6 616.7,415.4 617.4,415.6 618.1,416.2 618.8,416.8 619.5,417.4 620.1,417.9 620.8,418 621.5,418.8 622.2,418.9 622.9,419.4 623.6,419.9 624.3,419.6 625,420.1 625.7,420.3 626.4,420.3 627.1,421.2 627.7,421.1 628.4,421.2 629.1,421.2 629.8,421.9 630.5,421.6 631.2,421.9 631.9,421.7 632.6,421.9 633.3,422.2 634,421.9 634.6,422.7 635.3,422.9 636,423 636.7,423.3 637.4,423.1 638.1,423.7 638.8,423.3 639.5,423.3 640.2,423.2 640.9,423.7 641.6,423.3 642.2,423.9 642.9,423.8 643.6,424.4 644.3,424.1 645,424.2 645.7,423.7 646.4,424 647.1,424.5 647.8,424.1 648.5,424.2 649.1,424.4 649.8,424.4 650.5,424.5 651.2,424.6 651.9,425 652.6,424.6"/></g>
<g clip-path="url(#cb)"><polyline fill="none" stroke="#ff0000" stroke-width="2.8" stroke-linejoin="round" marker-start="url(#mr)" marker-mid="url(#mr)" marker-end="url(#mr)" points="100.2,1078.8 100.4,1078.8 100.6,1078.8 100.9,1078.8 101.1,1078.8 101.3,1078.8 101.5,1078.8 101.7,1078.8 102,1078.8 102.2,1078.8 102.4,1078.8 102.6,1078.8 102.8,1078.8 103.1,1078.8 103.3,1078.8 103.5,1078.8 103.7,1078.8 103.9,1078.8 104.1,1078.8 104.4,1078.8 104.6,1078.8 104.8,1078.8 105,1078.8 105.2,1078.8 105.5,1078.8 105.7,1078.8 105.9,1078.8 106.1,1078.8 106.3,1078.8 106.6,1078.8 106.8,1078.8 107,1078.8 107.2,1078.8 107.4,1078.8 107.7,1078.8 107.9,1078.8 108.1,1078.8 108.3,1078.8 108.5,1078.8 108.8,1078.8 109,1078.8 109.2,1078.8 109.4,1078.8 109.6,1078.8 109.8,1078.8 110.1,1078.8 110.3,1078.8 110.5,1078.8 110.7,1078.8 110.9,1078.8 111.2,1078.8 111.4,1078.8 111.6,1078.8 111.8,1078.8 112,1078.8 112.3,1078.8 112.5,1078.8 112.7,1071.3 112.9,1044.3 113.1,1019.5 113.4,996.8 113.6,976 113.8,956.9 114,939.4 114.2,923.3 114.5,908.6 114.7,895.1 114.9,882.8 115.1,871.5 115.3,861.1 115.5,851.5 115.8,842.8 116,834.8 116.2,827.5 116.4,820.8 116.6,814.6 116.9,808.9 117.1,803.8 117.3,799 117.5,794.7 117.7,790.7 118,787 118.2,783.6 118.4,780.6 118.6,777.8 118.8,775.2 119.1,772.8 119.3,770.6 119.5,768.6 119.7,766.8 119.9,765.1 120.2,763.6 120.4,762.2 120.6,760.9 120.8,759.7 121,758.6 121.2,757.7 121.5,756.7 121.7,755.9 121.9,755.1 122.1,754.4 122.3,753.8 122.6,753.2 122.8,752.7 123,752.2 123.2,751.7 123.4,751.3 123.7,750.9 123.9,750.6 124.1,750.3 124.3,750 124.5,749.7 124.8,749.4 125,749.2 125.2,749 125.4,748.8 125.6,748.6 125.9,748.5 126.1,748.4 126.3,789.6 126.5,819.9 126.7,842.9 126.9,861.9 127.2,878.5 127.4,893.4 127.6,906.9 127.8,919.4 128,930.8 128.3,941.4 128.5,951.1 128.7,960.1 128.9,968.4 129.1,976.1 129.4,983.1 129.6,989.7 129.8,995.8 130,1001.4 130.2,1006.5 130.5,1011.3 130.7,1015.8 130.9,1019.9 131.1,1023.7 131.3,1027.2 131.6,1030.5 131.8,1033.5 132,1036.3 132.2,1038.9 132.4,1041.4 132.6,1043.6 132.9,1045.7 133.1,1047.6 133.3,1049.4 133.5,1051.1 133.7,1052.6 134,1054.1 134.2,1055.4 134.4,1056.7 134.6,1057.8 134.8,1058.9 135.1,1059.9 135.3,1060.8 135.5,1061.7 135.7,1062.5 135.9,1063.3 136.2,1064 136.4,1064.7 136.6,1065.3 136.8,1065.9 137,1066.4 137.3,1066.9 137.5,1067.4 137.7,1067.8 137.9,1068.2 138.1,1068.6 138.3,1069 138.6,1069.3 138.8,1069.6 139,1069.9 139.2,1044.3 139.4,1019.7 139.7,997.2 139.9,976.5 140.1,957.5 140.3,940.1 140.5,924.2 140.8,909.6 141,896.2 141.2,884 141.4,872.7 141.6,862.4 141.9,852.9 142.1,844.3 142.3,836.3 142.5,829 142.7,822.4 143,816.2 143.2,810.6 143.4,805.5 143.6,800.8 143.8,796.5 144,792.5 144.3,788.9 144.5,785.5 144.7,782.5 144.9,779.7 145.1,777.1 145.4,774.8 145.6,772.6 145.8,770.6 146,768.8 146.2,767.2 146.5,765.6 146.7,764.2 146.9,763 147.1,761.8 147.3,760.7 147.6,759.7 147.8,758.8 148,758 148.2,757.2 148.4,756.5 148.7,755.9 148.9,755.3 149.1,754.8 149.3,754.3 149.5,753.8 149.7,753.4 150,753 150.2,752.7 150.4,752.4 150.6,752.1 150.8,751.8 151.1,751.6 151.3,751.3 151.5,751.1 151.7,751 151.9,750.8 152.2,750.6 152.4,776.4 152.6,811 152.8,836.1 153,856.3 153.3,873.6 153.5,889 153.7,902.9 153.9,915.7 154.1,927.4 154.4,938.2 154.6,948.2 154.8,957.4 155,965.9 155.2,973.8 155.4,981.1 155.7,987.8 155.9,994 156.1,999.7 156.3,1005 156.5,1009.9 156.8,1014.5 157,1018.7 157.2,1022.6 157.4,1026.2 157.6,1029.6 157.9,1032.7 158.1,1035.5 158.3,1038.2 158.5,1040.7 158.7,1043 159,1045.1 159.2,1047.1 159.4,1048.9 159.6,1050.6 159.8,1052.2 160.1,1053.7 160.3,1055 160.5,1056.3 160.7,1057.5 160.9,1058.6 161.2,1059.6 161.4,1060.6 161.6,1061.5 161.8,1062.3 162,1063.1 162.2,1063.8 162.5,1064.5 162.7,1065.1 162.9,1065.7 163.1,1066.2 163.3,1066.8 163.6,1067.2 163.8,1067.7 164,1068.1 164.2,1068.5 164.4,1068.9 164.7,1069.2 164.9,1069.5 165.1,1069.8 165.3,1066.5 165.5,1040.1 165.8,1016 166,993.8 166.2,973.5 166.4,954.9 166.6,937.9 166.9,922.2 167.1,907.9 167.3,894.8 167.5,882.7 167.7,871.7 167.9,861.5 168.2,852.3 168.4,843.8 168.6,836 168.8,828.8 169,822.3 169.3,816.2 169.5,810.7 169.7,805.7 169.9,801.1 170.1,796.8 170.4,792.9 170.6,789.4 170.8,786.1 171,783.1 171.2,780.4 171.5,777.8 171.7,775.5 171.9,773.4 172.1,771.5 172.3,769.7 172.6,768.1 172.8,766.6 173,765.2 173.2,763.9 173.4,762.8 173.6,761.7 173.9,760.8 174.1,759.9 174.3,759.1 174.5,758.3 174.7,757.6 175,757 175.2,756.4 175.4,755.9 175.6,755.4 175.8,755 176.1,754.6 176.3,754.2 176.5,753.9 176.7,753.6 176.9,753.3 177.2,753 177.4,752.8 177.6,752.5 177.8,752.3 178,752.2 178.3,752 178.5,751.8 178.7,751.7 178.9,789.4 179.1,820.3 179.3,843.5 179.6,862.5 179.8,879.1 180,894 180.2,907.5 180.4,919.9 180.7,931.3 180.9,941.8 181.1,951.5 181.3,960.5 181.5,968.8 181.8,976.4 182,983.5 182.2,990 182.4,996.1 182.6,1001.6 182.9,1006.8 183.1,1011.6 183.3,1016 183.5,1020.1 183.7,1023.9 184,1027.4 184.2,1030.7 184.4,1033.7 184.6,1036.5 184.8,1039.1 185,1041.5 185.3,1043.7 185.5,1045.8 185.7,1047.7 185.9,1049.5 186.1,1051.2 186.4,1052.7 186.6,1054.2 186.8,1055.5 187,1056.7 187.2,1057.9 187.5,1059 187.7,1060 187.9,1060.9 188.1,1061.8 188.3,1062.6 188.6,1063.3 188.8,1064.1 189,1064.7 189.2,1065.3 189.4,1065.9 189.7,1066.4 189.9,1066.9 190.1,1067.4 190.3,1067.8 190.5,1068.2 190.7,1068.6 191,1069 191.2,1069.3 191.4,1069.6 191.6,1069.9 191.8,1046.4 192.1,1022.1 192.3,999.9 192.5,979.5 192.7,960.8 192.9,943.7 193.2,928 193.4,913.6 193.6,900.4 193.8,888.3 194,877.2 194.3,867 194.5,857.7 194.7,849.1 194.9,841.3 195.1,834.1 195.4,827.5 195.6,821.5 195.8,816 196,810.9 196.2,806.3 196.4,802 196.7,798.1 196.9,794.5 197.1,791.2 197.3,788.2 197.5,785.5 197.8,782.9 198,780.6 198.2,778.5 198.4,776.5 198.6,774.7 198.9,773.1 199.1,771.6 199.3,770.2 199.5,769 199.7,767.8 200,766.8 200.2,765.8 200.4,764.9 200.6,764.1 200.8,763.3 201.1,762.6 201.3,762 201.5,761.4 201.7,760.9 201.9,760.4 202.1,760 202.4,759.6 202.6,759.2 202.8,758.8 203,758.5 203.2,758.2 203.5,758 203.7,757.7 203.9,757.5 204.1,757.3 204.3,757.1 204.6,757 204.8,756.8 205,757.2 205.2,799.7 205.4,828.4 205.7,850.4 205.9,868.7 206.1,884.7 206.3,899.1 206.5,912.2 206.8,924.3 207,935.3 207.2,945.5 207.4,955 207.6,963.7 207.8,971.7 208.1,979.1 208.3,986 208.5,992.4 208.7,998.2 208.9,1003.7 209.2,1008.7 209.4,1013.3 209.6,1017.6 209.8,1021.6 210,1025.3 210.3,1028.7 210.5,1031.9 210.7,1034.8 210.9,1037.5 211.1,1040.1 211.4,1042.4 211.6,1044.6 211.8,1046.6 212,1048.5 212.2,1050.2 212.5,1051.8 212.7,1053.3 212.9,1054.7 213.1,1056 213.3,1057.2 213.6,1058.3 213.8,1059.4 214,1060.4 214.2,1061.3 214.4,1062.1 214.6,1062.9 214.9,1063.6 215.1,1064.3 215.3,1065 215.5,1065.6 215.7,1066.1 216,1066.6 216.2,1067.1 216.4,1067.6 216.6,1068 216.8,1068.4 217.1,1068.8 217.3,1069.1 217.5,1069.5 217.7,1069.8 217.9,1070.1 218.2,1047.5 218.4,1023.6 218.6,1001.8 218.8,981.7 219,963.4 219.3,946.5 219.5,931.1 219.7,916.9 219.9,904 220.1,892.1 220.3,881.2 220.6,871.2 220.8,862 221,853.6 221.2,845.9 221.4,838.9 221.7,832.4 221.9,826.5 222.1,821 222.3,816 222.5,811.5 222.8,807.3 223,803.4 223.2,799.9 223.4,796.7 223.6,793.7 223.9,791 224.1,788.5 224.3,786.3 224.5,784.2 224.7,782.3 225,780.5 225.2,778.9 225.4,777.4 225.6,776.1 225.8,774.8 226,773.7 226.3,772.6 226.5,771.7 226.7,770.8 226.9,770 227.1,769.3 227.4,768.6 227.6,768 227.8,767.4 228,766.9 228.2,766.4 228.5,766 228.7,765.6 228.9,765.2 229.1,764.9 229.3,764.6 229.6,764.3 229.8,764 230,763.8 230.2,763.6 230.4,763.4 230.7,763.2 230.9,763 231.1,762.9 231.3,777.4 231.5,814.1 231.7,839.9 232,860.2 232.2,877.4 232.4,892.6 232.6,906.3 232.8,918.9 233.1,930.4 233.3,941 233.5,950.8 233.7,959.8 233.9,968.2 234.2,975.9 234.4,983 234.6,989.6 234.8,995.7 235,1001.3 235.3,1006.5 235.5,1011.3 235.7,1015.8 235.9,1019.9 236.1,1023.7 236.4,1027.2 236.6,1030.5 236.8,1033.6 237,1036.4 237.2,1039 237.4,1041.4 237.7,1043.6 237.9,1045.7 238.1,1047.7 238.3,1049.5 238.5,1051.1 238.8,1052.7 239,1054.1 239.2,1055.5 239.4,1056.7 239.6,1057.9 239.9,1059 240.1,1060 240.3,1060.9 240.5,1061.8 240.7,1062.6 241,1063.3 241.2,1064.1 241.4,1064.7 241.6,1065.3 241.8,1065.9 242.1,1066.4 242.3,1066.9 242.5,1067.4 242.7,1067.8 242.9,1068.3 243.1,1068.6 243.4,1069 243.6,1069.3 243.8,1069.6 244,1069.9 244.2,1058.8 244.5,1034.3 244.7,1011.8 244.9,991.2 245.1,972.3 245.3,955 245.6,939.2 245.8,924.6 246,911.3 246.2,899.1 246.4,887.9 246.7,877.6 246.9,868.2 247.1,859.6 247.3,851.7 247.5,844.4 247.8,837.8 248,831.7 248.2,826.1 248.4,820.9 248.6,816.3 248.8,811.9 249.1,808 249.3,804.4 249.5,801.1 249.7,798 249.9,795.2 250.2,792.7 250.4,790.3 250.6,788.2 250.8,786.2 251,784.4 251.3,782.8 251.5,781.3 251.7,779.9 251.9,778.6 252.1,777.4 252.4,776.4 252.6,775.4 252.8,774.5 253,773.6 253.2,772.9 253.5,772.2 253.7,771.6 253.9,771 254.1,770.4 254.3,770 254.5,769.5 254.8,769.1 255,768.7 255.2,768.4 255.4,768.1 255.6,767.8 255.9,767.5 256.1,767.3 256.3,767 256.5,766.8 256.7,766.6 257,766.5 257.2,766.3 257.4,766.2 257.6,792 257.8,824.6 258.1,848.3 258.3,867.3 258.5,883.7 258.7,898.3 258.9,911.6 259.2,923.7 259.4,934.8 259.6,945.1 259.8,954.6 260,963.3 260.2,971.4 260.5,978.9 260.7,985.8 260.9,992.1 261.1,998 261.3,1003.5 261.6,1008.5 261.8,1013.2 262,1017.5 262.2,1021.5 262.4,1025.2 262.7,1028.6 262.9,1031.8 263.1,1034.8 263.3,1037.5 263.5,1040 263.8,1042.4 264,1044.6 264.2,1046.6 264.4,1048.5 264.6,1050.2 264.9,1051.8 265.1,1053.3 265.3,1054.7 265.5,1056 265.7,1057.2 265.9,1058.4 266.2,1059.4 266.4,1060.4 266.6,1061.3 266.8,1062.1 267,1062.9 267.3,1063.7 267.5,1064.3 267.7,1065 267.9,1065.6 268.1,1066.1 268.4,1066.7 268.6,1067.2 268.8,1067.6 269,1068 269.2,1068.4 269.5,1068.8 269.7,1069.2 269.9,1069.5 270.1,1069.8 270.3,1070.1 270.6,1057.6 270.8,1033.4 271,1011.1 271.2,990.7 271.4,972 271.7,954.9 271.9,939.2 272.1,924.8 272.3,911.6 272.5,899.5 272.7,888.4 273,878.3 273.2,868.9 273.4,860.4 273.6,852.6 273.8,845.4 274.1,838.8 274.3,832.8 274.5,827.2 274.7,822.2 274.9,817.5 275.2,813.3 275.4,809.4 275.6,805.8 275.8,802.5 276,799.5 276.3,796.7 276.5,794.2 276.7,791.9 276.9,789.8 277.1,787.8 277.4,786 277.6,784.4 277.8,782.9 278,781.5 278.2,780.2 278.4,779.1 278.7,778 278.9,777.1 279.1,776.2 279.3,775.3 279.5,774.6 279.8,773.9 280,773.3 280.2,772.7 280.4,772.2 280.6,771.7 280.9,771.2 281.1,770.8 281.3,770.5 281.5,770.1 281.7,769.8 282,769.5 282.2,769.3 282.4,769 282.6,768.8 282.8,768.6 283.1,768.4 283.3,768.2 283.5,768.1 283.7,767.9 283.9,767.8 284.1,799.8 284.4,830.3 284.6,852.9 284.8,871.3 285,887.3 285.2,901.5 285.5,914.5 285.7,926.4 285.9,937.3 286.1,947.4 286.3,956.7 286.6,965.3 286.8,973.2 287,980.6 287.2,987.3 287.4,993.6 287.7,999.4 287.9,1004.7 288.1,1009.7 288.3,1014.3 288.5,1018.5 288.8,1022.4 289,1026.1 289.2,1029.4 289.4,1032.6 289.6,1035.4 289.8,1038.1 290.1,1040.6 290.3,1042.9 290.5,1045.1 290.7,1047 290.9,1048.9 291.2,1050.6 291.4,1052.2 291.6,1053.7 291.8,1055 292,1056.3 292.3,1057.5 292.5,1058.6 292.7,1059.6 292.9,1060.6 293.1,1061.5 293.4,1062.3 293.6,1063.1 293.8,1063.8 294,1064.5 294.2,1065.1 294.5,1065.7 294.7,1066.3 294.9,1066.8 295.1,1067.3 295.3,1067.7 295.5,1068.1 295.8,1068.5 296,1068.9 296.2,1069.2 296.4,1069.6 296.6,1069.9 296.9,1070.1 297.1,1053.3 297.3,1029.5 297.5,1007.6 297.7,987.6 298,969.3 298.2,952.4 298.4,937 298.6,922.9 298.8,909.9 299.1,898.1 299.3,887.2 299.5,877.2 299.7,868 299.9,859.6 300.2,852 300.4,844.9 300.6,838.4 300.8,832.5 301,827.1 301.2,822.1 301.5,817.5 301.7,813.4 301.9,809.5 302.1,806 302.3,802.8 302.6,799.8 302.8,797.1 303,794.6 303.2,792.4 303.4,790.3 303.7,788.4 303.9,786.6 304.1,785 304.3,783.5 304.5,782.2 304.8,780.9 305,779.8 305.2,778.8 305.4,777.8 305.6,776.9 305.9,776.1 306.1,775.4 306.3,774.7 306.5,774.1 306.7,773.5 306.9,773 307.2,772.6 307.4,772.1 307.6,771.7 307.8,771.3 308,771 308.3,770.7 308.5,770.4 308.7,770.2 308.9,769.9 309.1,769.7 309.4,769.5 309.6,769.3 309.8,769.2 310,769 310.2,775.3 310.5,814 310.7,840.7 310.9,861.3 311.1,878.5 311.3,893.7 311.6,907.4 311.8,919.9 312,931.3 312.2,941.9 312.4,951.6 312.6,960.6 312.9,968.9 313.1,976.5 313.3,983.6 313.5,990.2 313.7,996.2 314,1001.8 314.2,1007 314.4,1011.8 314.6,1016.2 314.8,1020.3 315.1,1024.1 315.3,1027.6 315.5,1030.8 315.7,1033.9 315.9,1036.7 316.2,1039.3 316.4,1041.7 316.6,1043.9 316.8,1046 317,1047.9 317.3,1049.7 317.5,1051.3 317.7,1052.9 317.9,1054.3 318.1,1055.6 318.3,1056.9 318.6,1058 318.8,1059.1 319,1060.1 319.2,1061 319.4,1061.9 319.7,1062.7 319.9,1063.4 320.1,1064.1 320.3,1064.8 320.5,1065.4 320.8,1066 321,1066.5 321.2,1067 321.4,1067.5 321.6,1067.9 321.9,1068.3 322.1,1068.7 322.3,1069 322.5,1069.4 322.7,1069.7 323,1070 323.2,1063.9 323.4,1039.3 323.6,1016.8 323.8,996.1 324.1,977.2 324.3,959.8 324.5,943.9 324.7,929.3 324.9,915.9 325.1,903.6 325.4,892.4 325.6,882 325.8,872.6 326,863.9 326.2,856 326.5,848.7 326.7,842 326.9,835.9 327.1,830.3 327.3,825.2 327.6,820.4 327.8,816.1 328,812.2 328.2,808.5 328.4,805.2 328.7,802.1 328.9,799.3 329.1,796.8 329.3,794.4 329.5,792.3 329.8,790.3 330,788.5 330.2,786.8 330.4,785.3 330.6,783.9 330.8,782.6 331.1,781.5 331.3,780.4 331.5,779.4 331.7,778.5 331.9,777.7 332.2,776.9 332.4,776.2 332.6,775.6 332.8,775 333,774.4 333.3,774 333.5,773.5 333.7,773.1 333.9,772.7 334.1,772.4 334.4,772 334.6,771.8 334.8,771.5 335,771.2 335.2,771 335.5,770.8 335.7,770.6 335.9,770.4 336.1,770.3 336.3,770.1 336.5,770 336.8,807 337,835.7 337.2,857.4 337.4,875.2 337.6,890.8 337.9,904.8 338.1,917.5 338.3,929.1 338.5,939.9 338.7,949.8 339,958.9 339.2,967.3 339.4,975.1 339.6,982.3 339.8,988.9 340.1,995.1 340.3,1000.7 340.5,1006 340.7,1010.8 340.9,1015.3 341.2,1019.5 341.4,1023.4 341.6,1026.9 341.8,1030.2 342,1033.3 342.2,1036.1 342.5,1038.8 342.7,1041.2 342.9,1043.5 343.1,1045.6 343.3,1047.5 343.6,1049.3 343.8,1051 344,1052.6 344.2,1054 344.4,1055.4 344.7,1056.6 344.9,1057.8 345.1,1058.9 345.3,1059.9 345.5,1060.8 345.8,1061.7 346,1062.5 346.2,1063.3 346.4,1064 346.6,1064.7 346.9,1065.3 347.1,1065.9 347.3,1066.4 347.5,1066.9 347.7,1067.4 347.9,1067.8 348.2,1068.2 348.4,1068.6 348.6,1069 348.8,1069.3 349,1069.6 349.3,1069.9 349.5,1063.3 349.7,1038.9 349.9,1016.6 350.1,996.1 350.4,977.4 350.6,960.2 350.8,944.4 351,929.9 351.2,916.7 351.5,904.5 351.7,893.4 351.9,883.2 352.1,873.8 352.3,865.2 352.6,857.4 352.8,850.2 353,843.6 353.2,837.5 353.4,831.9 353.6,826.9 353.9,822.2 354.1,817.9 354.3,814 354.5,810.4 354.7,807.1 355,804.1 355.2,801.3 355.4,798.8 355.6,796.4 355.8,794.3 356.1,792.3 356.3,790.5 356.5,788.9 356.7,787.4 356.9,786 357.2,784.7 357.4,783.6 357.6,782.5 357.8,781.5 358,780.6 358.3,779.8 358.5,779.1 358.7,778.4 358.9,777.8 359.1,777.2 359.3,776.6 359.6,776.2 359.8,775.7 360,775.3 360.2,774.9 360.4,774.6 360.7,774.3 360.9,774 361.1,773.7 361.3,773.5 361.5,773.2 361.8,773 362,772.9 362.2,772.7 362.4,772.5 362.6,772.4 362.9,772.3 363.1,803.3 363.3,833.5 363.5,855.8 363.7,874 364,889.8 364.2,903.9 364.4,916.7 364.6,928.4 364.8,939.2 365,949.1 365.3,958.3 365.5,966.8 365.7,974.6 365.9,981.8 366.1,988.5 366.4,994.7 366.6,1000.4 366.8,1005.7 367,1010.6 367.2,1015.1 367.5,1019.3 367.7,1023.1 367.9,1026.7 368.1,1030 368.3,1033.1 368.6,1036 368.8,1038.6 369,1041.1 369.2,1043.3 369.4,1045.5 369.7,1047.4 369.9,1049.2 370.1,1050.9 370.3,1052.5 370.5,1054 370.7,1055.3 371,1056.6 371.2,1057.7 371.4,1058.8 371.6,1059.9 371.8,1060.8 372.1,1061.7 372.3,1062.5 372.5,1063.3 372.7,1064 372.9,1064.6 373.2,1065.3 373.4,1065.8 373.6,1066.4 373.8,1066.9 374,1067.4 374.3,1067.8 374.5,1068.2 374.7,1068.6 374.9,1069 375.1,1069.3 375.4,1069.6 375.6,1069.9 375.8,1070.2 376,1057.5 376.2,1033.6 376.4,1011.7 376.7,991.6 376.9,973.2 377.1,956.3 377.3,940.9 377.5,926.7 377.8,913.7 378,901.8 378.2,890.9 378.4,880.9 378.6,871.7 378.9,863.3 379.1,855.6 379.3,848.5 379.5,842 379.7,836.1 380,830.6 380.2,825.6 380.4,821.1 380.6,816.9 380.8,813 381.1,809.5 381.3,806.3 381.5,803.3 381.7,800.6 381.9,798.1 382.2,795.8 382.4,793.7 382.6,791.8 382.8,790 383,788.4 383.2,786.9 383.5,785.6 383.7,784.3 383.9,783.2 384.1,782.2 384.3,781.2 384.6,780.3 384.8,779.5 385,778.8 385.2,778.1 385.4,777.5 385.7,776.9 385.9,776.4 386.1,775.9 386.3,775.5 386.5,775.1 386.8,774.7 387,774.4 387.2,774.1 387.4,773.8 387.6,773.5 387.9,773.3 388.1,773.1 388.3,772.9 388.5,772.7 388.7,772.5 388.9,772.4 389.2,772.3 389.4,809.1 389.6,837.5 389.8,859 390,876.8 390.3,892.2 390.5,906.1 390.7,918.7 390.9,930.2 391.1,940.9 391.4,950.7 391.6,959.8 391.8,968.1 392,975.8 392.2,983 392.5,989.6 392.7,995.7 392.9,1001.3 393.1,1006.5 393.3,1011.3 393.6,1015.8 393.8,1019.9 394,1023.7 394.2,1027.3 394.4,1030.6 394.6,1033.6 394.9,1036.4 395.1,1039 395.3,1041.5 395.5,1043.7 395.7,1045.8 396,1047.7 396.2,1049.5 396.4,1051.2 396.6,1052.7 396.8,1054.2 397.1,1055.5 397.3,1056.8 397.5,1057.9 397.7,1059 397.9,1060 398.2,1060.9 398.4,1061.8 398.6,1062.6 398.8,1063.4 399,1064.1 399.3,1064.8 399.5,1065.4 399.7,1065.9 399.9,1066.5 400.1,1067 400.3,1067.4 400.6,1067.9 400.8,1068.3 401,1068.7 401.2,1069 401.4,1069.4 401.7,1069.7 401.9,1070 402.1,1069.5 402.3,1044.6 402.5,1021.8 402.8,1000.9 403,981.7 403.2,964.1 403.4,948 403.6,933.3 403.9,919.7 404.1,907.3 404.3,896 404.5,885.5 404.7,876 405,867.2 405.2,859.2 405.4,851.8 405.6,845.1 405.8,838.9 406,833.2 406.3,828 406.5,823.2 406.7,818.9 406.9,814.9 407.1,811.2 407.4,807.8 407.6,804.7 407.8,801.9 408,799.3 408.2,796.9 408.5,794.8 408.7,792.8 408.9,790.9 409.1,789.3 409.3,787.7 409.6,786.3 409.8,785 410,783.8 410.2,782.7 410.4,781.7 410.7,780.8 410.9,780 411.1,779.2 411.3,778.5 411.5,777.9 411.7,777.3 412,776.7 412.2,776.2 412.4,775.8 412.6,775.4 412.8,775 413.1,774.6 413.3,774.3 413.5,774 413.7,773.7 413.9,773.5 414.2,773.3 414.4,773.1 414.6,772.9 414.8,772.7 415,772.5 415.3,772.4 415.5,772.3 415.7,801.7 415.9,832.4 416.1,855 416.4,873.3 416.6,889.2 416.8,903.3 417,916.2 417.2,927.9 417.4,938.8 417.7,948.7 417.9,957.9 418.1,966.4 418.3,974.3 418.5,981.5 418.8,988.2 419,994.4 419.2,1000.2 419.4,1005.5 419.6,1010.4 419.9,1014.9 420.1,1019.1 420.3,1023 420.5,1026.6 420.7,1029.9 421,1033 421.2,1035.9 421.4,1038.5 421.6,1041 421.8,1043.3 422.1,1045.4 422.3,1047.3 422.5,1049.2 422.7,1050.9 422.9,1052.4 423.1,1053.9 423.4,1055.3 423.6,1056.5 423.8,1057.7 424,1058.8 424.2,1059.8 424.5,1060.8 424.7,1061.6 424.9,1062.5 425.1,1063.2 425.3,1064 425.6,1064.6 425.8,1065.2 426,1065.8 426.2,1066.4 426.4,1066.9 426.7,1067.3 426.9,1067.8 427.1,1068.2 427.3,1068.6 427.5,1069 427.8,1069.3 428,1069.6 428.2,1069.9 428.4,1070.2 428.6,1053.5 428.8,1030 429.1,1008.5 429.3,988.8 429.5,970.7 429.7,954.1 429.9,938.9 430.2,924.9 430.4,912.2 430.6,900.4 430.8,889.7 431,879.9 431.3,870.8 431.5,862.6 431.7,855 431.9,848 432.1,841.6 432.4,835.8 432.6,830.4 432.8,825.5 433,821 433.2,816.9 433.5,813.1 433.7,809.7 433.9,806.5 434.1,803.6 434.3,800.9 434.6,798.4 434.8,796.2 435,794.1 435.2,792.3 435.4,790.5 435.6,788.9 435.9,787.5 436.1,786.2 436.3,784.9 436.5,783.8 436.7,782.8 437,781.8 437.2,781 437.4,780.2 437.6,779.5 437.8,778.8 438.1,778.2 438.3,777.6 438.5,777.1 438.7,776.7 438.9,776.2 439.2,775.8 439.4,775.5 439.6,775.1 439.8,774.8 440,774.6 440.3,774.3 440.5,774.1 440.7,773.9 440.9,773.7 441.1,773.5 441.3,773.3 441.6,773.2 441.8,783 442,819.9 442.2,845.6 442.4,865.6 442.7,882.4 442.9,897.3 443.1,910.7 443.3,922.9 443.5,934.1 443.8,944.5 444,954 444.2,962.8 444.4,970.9 444.6,978.4 444.9,985.4 445.1,991.8 445.3,997.7 445.5,1003.2 445.7,1008.3 446,1013 446.2,1017.3 446.4,1021.3 446.6,1025 446.8,1028.5 447,1031.7 447.3,1034.6 447.5,1037.4 447.7,1039.9 447.9,1042.3 448.1,1044.5 448.4,1046.5 448.6,1048.4 448.8,1050.1 449,1051.8 449.2,1053.3 449.5,1054.7 449.7,1056 449.9,1057.2 450.1,1058.3 450.3,1059.4 450.6,1060.4 450.8,1061.3 451,1062.1 451.2,1062.9 451.4,1063.7 451.7,1064.3 451.9,1065 452.1,1065.6 452.3,1066.1 452.5,1066.7 452.7,1067.2 453,1067.6 453.2,1068 453.4,1068.4 453.6,1068.8 453.8,1069.2 454.1,1069.5 454.3,1069.8 454.5,1070.1 454.7,1069.7 454.9,1045 455.2,1022.3 455.4,1001.5 455.6,982.4 455.8,964.9 456,948.9 456.3,934.2 456.5,920.7 456.7,908.4 456.9,897 457.1,886.7 457.4,877.1 457.6,868.4 457.8,860.4 458,853.1 458.2,846.4 458.4,840.2 458.7,834.6 458.9,829.4 459.1,824.7 459.3,820.3 459.5,816.3 459.8,812.7 460,809.3 460.2,806.2 460.4,803.4 460.6,800.8 460.9,798.5 461.1,796.3 461.3,794.3 461.5,792.5 461.7,790.8 462,789.3 462.2,787.9 462.4,786.6 462.6,785.4 462.8,784.3 463.1,783.3 463.3,782.4 463.5,781.6 463.7,780.8 463.9,780.1 464.1,779.5 464.4,778.9 464.6,778.4 464.8,777.9 465,777.4 465.2,777 465.5,776.6 465.7,776.3 465.9,776 466.1,775.7 466.3,775.4 466.6,775.1 466.8,774.9 467,774.7 467.2,774.5 467.4,774.3 467.7,774.2 467.9,774 468.1,773.9 468.3,807.5 468.5,836.7 468.8,858.5 469,876.4 469.2,892 469.4,905.9 469.6,918.5 469.8,930.1 470.1,940.7 470.3,950.6 470.5,959.6 470.7,968 470.9,975.7 471.2,982.9 471.4,989.5 471.6,995.6 471.8,1001.2 472,1006.5 472.3,1011.3 472.5,1015.7 472.7,1019.9 472.9,1023.7 473.1,1027.3 473.4,1030.5 473.6,1033.6 473.8,1036.4 474,1039 474.2,1041.4 474.5,1043.7 474.7,1045.8 474.9,1047.7 475.1,1049.5 475.3,1051.2 475.5,1052.7 475.8,1054.2 476,1055.5 476.2,1056.8 476.4,1057.9 476.6,1059 476.9,1060 477.1,1060.9 477.3,1061.8 477.5,1062.6 477.7,1063.4 478,1064.1 478.2,1064.8 478.4,1065.4 478.6,1065.9 478.8,1066.5 479.1,1067 479.3,1067.4 479.5,1067.9 479.7,1068.3 479.9,1068.7 480.2,1069 480.4,1069.4 480.6,1069.7 480.8,1070 481,1070.2 481.2,1048.7 481.5,1025.5 481.7,1004.3 481.9,984.8 482.1,967 482.3,950.7 482.6,935.7 482.8,921.9 483,909.3 483.2,897.8 483.4,887.2 483.7,877.5 483.9,868.6 484.1,860.4 484.3,853 484.5,846.1 484.8,839.8 485,834.1 485.2,828.8 485.4,824 485.6,819.5 485.9,815.5 486.1,811.7 486.3,808.3 486.5,805.2 486.7,802.3 486.9,799.7 487.2,797.3 487.4,795 487.6,793 487.8,791.2 488,789.4 488.3,787.9 488.5,786.5 488.7,785.1 488.9,783.9 489.1,782.8 489.4,781.8 489.6,780.9 489.8,780 490,779.3 490.2,778.6 490.5,777.9 490.7,777.3 490.9,776.7 491.1,776.2 491.3,775.8 491.6,775.4 491.8,775 492,774.6 492.2,774.3 492.4,774 492.7,773.7 492.9,773.5 493.1,773.2 493.3,773 493.5,772.8 493.7,772.6 494,772.5 494.2,772.3 494.4,779.9 494.6,817.7 494.8,843.8 495.1,864.1 495.3,881.1 495.5,896.1 495.7,909.6 495.9,921.9 496.2,933.2 496.4,943.6 496.6,953.2 496.8,962.1 497,970.3 497.3,977.8 497.5,984.8 497.7,991.3 497.9,997.2 498.1,1002.7 498.4,1007.8 498.6,1012.6 498.8,1016.9 499,1021 499.2,1024.7 499.4,1028.2 499.7,1031.4 499.9,1034.4 500.1,1037.1 500.3,1039.7 500.5,1042.1 500.8,1044.3 501,1046.3 501.2,1048.2 501.4,1050 501.6,1051.6 501.9,1053.1 502.1,1054.6 502.3,1055.9 502.5,1057.1 502.7,1058.2 503,1059.3 503.2,1060.3 503.4,1061.2 503.6,1062 503.8,1062.8 504.1,1063.6 504.3,1064.3 504.5,1064.9 504.7,1065.5 504.9,1066.1 505.1,1066.6 505.4,1067.1 505.6,1067.6 505.8,1068 506,1068.4 506.2,1068.8 506.5,1069.1 506.7,1069.4 506.9,1069.8 507.1,1070 507.3,1061.2 507.6,1037 507.8,1014.8 508,994.4 508.2,975.8 508.4,958.6 508.7,943 508.9,928.6 509.1,915.4 509.3,903.3 509.5,892.2 509.8,882.1 510,872.8 510.2,864.2 510.4,856.4 510.6,849.2 510.8,842.6 511.1,836.6 511.3,831.1 511.5,826 511.7,821.4 511.9,817.1 512.2,813.2 512.4,809.6 512.6,806.4 512.8,803.4 513,800.6 513.3,798.1 513.5,795.8 513.7,793.6 513.9,791.7 514.1,789.9 514.4,788.3 514.6,786.8 514.8,785.4 515,784.1 515.2,783 515.5,781.9 515.7,780.9 515.9,780.1 516.1,779.2 516.3,778.5 516.5,777.8 516.8,777.2 517,776.6 517.2,776.1 517.4,775.6 517.6,775.1 517.9,774.7 518.1,774.4 518.3,774 518.5,773.7 518.7,773.4 519,773.2 519.2,772.9 519.4,772.7 519.6,772.5 519.8,772.3 520.1,772.1 520.3,772 520.5,771.8 520.7,771.7 520.9,800.7 521.2,831.6 521.4,854.3 521.6,872.7 521.8,888.6 522,902.8 522.2,915.7 522.5,927.5 522.7,938.4 522.9,948.4 523.1,957.6 523.3,966.1 523.6,974 523.8,981.3 524,988 524.2,994.2 524.4,1000 524.7,1005.3 524.9,1010.2 525.1,1014.7 525.3,1018.9 525.5,1022.8 525.8,1026.4 526,1029.8 526.2,1032.9 526.4,1035.7 526.6,1038.4 526.9,1040.9 527.1,1043.2 527.3,1045.3 527.5,1047.3 527.7,1049.1 527.9,1050.8 528.2,1052.4 528.4,1053.8 528.6,1055.2 528.8,1056.5 529,1057.7 529.3,1058.7 529.5,1059.8 529.7,1060.7 529.9,1061.6 530.1,1062.4 530.4,1063.2 530.6,1063.9 530.8,1064.6 531,1065.2 531.2,1065.8 531.5,1066.3 531.7,1066.9 531.9,1067.3 532.1,1067.8 532.3,1068.2 532.6,1068.6 532.8,1068.9 533,1069.3 533.2,1069.6 533.4,1069.9 533.6,1070.2 533.9,1048.5 534.1,1025.4 534.3,1004.2 534.5,984.7 534.7,966.9 535,950.6 535.2,935.6 535.4,921.9 535.6,909.3 535.8,897.7 536.1,887.2 536.3,877.5 536.5,868.6 536.7,860.4 536.9,853 537.2,846.1 537.4,839.8 537.6,834.1 537.8,828.8 538,824 538.3,819.5 538.5,815.5 538.7,811.8 538.9,808.3 539.1,805.2 539.3,802.3 539.6,799.7 539.8,797.3 540,795.1 540.2,793.1 540.4,791.2 540.7,789.5 540.9,787.9 541.1,786.5 541.3,785.2 541.5,784 541.8,782.9 542,781.9 542.2,780.9 542.4,780.1 542.6,779.3 542.9,778.6 543.1,777.9 543.3,777.3 543.5,776.8 543.7,776.3 544,775.8 544.2,775.4 544.4,775 544.6,774.7 544.8,774.3 545.1,774 545.3,773.8 545.5,773.5 545.7,773.3 545.9,773.1 546.1,772.9 546.4,772.7 546.6,772.5 546.8,772.4 547,772.3 547.2,803.3 547.5,833.5 547.7,855.8 547.9,874 548.1,889.8 548.3,903.9 548.6,916.7 548.8,928.4 549,939.2 549.2,949.1 549.4,958.3 549.7,966.8 549.9,974.6 550.1,981.8 550.3,988.5 550.5,994.7 550.8,1000.4 551,1005.7 551.2,1010.6 551.4,1015.1 551.6,1019.3 551.8,1023.1 552.1,1026.7 552.3,1030 552.5,1033.1 552.7,1036 552.9,1038.6 553.2,1041.1 553.4,1043.3 553.6,1045.5 553.8,1047.4 554,1049.2 554.3,1050.9 554.5,1052.5 554.7,1054 554.9,1055.3 555.1,1056.6 555.4,1057.7 555.6,1058.8 555.8,1059.9 556,1060.8 556.2,1061.7 556.5,1062.5 556.7,1063.3 556.9,1064 557.1,1064.6 557.3,1065.3 557.5,1065.8 557.8,1066.4 558,1066.9 558.2,1067.4 558.4,1067.8 558.6,1068.2 558.9,1068.6 559.1,1069 559.3,1069.3 559.5,1069.6 559.7,1069.9 560,1070.2 560.2,1054.3 560.4,1030.8 560.6,1009.2 560.8,989.4 561.1,971.2 561.3,954.6 561.5,939.3 561.7,925.3 561.9,912.5 562.2,900.8 562.4,890 562.6,880.1 562.8,871.1 563,862.8 563.2,855.2 563.5,848.2 563.7,841.8 563.9,835.9 564.1,830.6 564.3,825.7 564.6,821.1 564.8,817 565,813.2 565.2,809.7 565.4,806.5 565.7,803.6 565.9,800.9 566.1,798.5 566.3,796.2 566.5,794.2 566.8,792.3 567,790.5 567.2,788.9 567.4,787.5 567.6,786.2 567.9,784.9 568.1,783.8 568.3,782.8 568.5,781.8 568.7,781 568.9,780.2 569.2,779.4 569.4,778.8 569.6,778.2 569.8,777.6 570,777.1 570.3,776.6 570.5,776.2 570.7,775.8 570.9,775.4 571.1,775.1 571.4,774.8 571.6,774.5 571.8,774.3 572,774 572.2,773.8 572.5,773.6 572.7,773.4 572.9,773.3 573.1,773.1 573.3,795.7 573.6,828.4 573.8,852 574,870.9 574.2,887 574.4,901.4 574.6,914.4 574.9,926.3 575.1,937.3 575.3,947.4 575.5,956.7 575.7,965.3 576,973.2 576.2,980.6 576.4,987.3 576.6,993.6 576.8,999.4 577.1,1004.8 577.3,1009.7 577.5,1014.3 577.7,1018.5 577.9,1022.5 578.2,1026.1 578.4,1029.5 578.6,1032.6 578.8,1035.5 579,1038.2 579.3,1040.6 579.5,1043 579.7,1045.1 579.9,1047.1 580.1,1048.9 580.3,1050.6 580.6,1052.2 580.8,1053.7 581,1055.1 581.2,1056.4 581.4,1057.5 581.7,1058.7 581.9,1059.7 582.1,1060.6 582.3,1061.5 582.5,1062.4 582.8,1063.1 583,1063.9 583.2,1064.5 583.4,1065.2 583.6,1065.8 583.9,1066.3 584.1,1066.8 584.3,1067.3 584.5,1067.7 584.7,1068.2 585,1068.5 585.2,1068.9 585.4,1069.3 585.6,1069.6 585.8,1069.9 586,1070.2 586.3,1070.4 586.5,1046.4 586.7,1023.8 586.9,1003.1 587.1,984.1 587.4,966.7 587.6,950.7 587.8,936.1 588,922.7 588.2,910.4 588.5,899.1 588.7,888.8 588.9,879.3 589.1,870.7 589.3,862.7 589.6,855.4 589.8,848.7 590,842.6 590.2,837 590.4,831.8 590.7,827.1 590.9,822.8 591.1,818.8 591.3,815.2 591.5,811.8 591.7,808.8 592,806 592.2,803.4 592.4,801.1 592.6,798.9 592.8,796.9 593.1,795.1 593.3,793.4 593.5,791.9 593.7,790.5 593.9,789.2 594.2,788.1 594.4,787 594.6,786 594.8,785.1 595,784.3 595.3,783.5 595.5,782.8 595.7,782.2 595.9,781.6 596.1,781 596.4,780.5 596.6,780.1 596.8,779.7 597,779.3 597.2,779 597.5,778.6 597.7,778.3 597.9,778.1 598.1,777.8 598.3,777.6 598.5,777.4 598.8,777.2 599,777 599.2,776.9 599.4,776.7 599.6,797.5 599.9,830.3 600.1,853.8 600.3,872.6 600.5,888.7 600.7,902.9 601,915.9 601.2,927.7 601.4,938.5 601.6,948.5 601.8,957.8 602.1,966.3 602.3,974.2 602.5,981.4 602.7,988.1 602.9,994.3 603.2,1000.1 603.4,1005.4 603.6,1010.3 603.8,1014.8 604,1019.1 604.2,1022.9 604.5,1026.5 604.7,1029.9 604.9,1033 605.1,1035.8 605.3,1038.5 605.6,1041 605.8,1043.2 606,1045.4 606.2,1047.3 606.4,1049.2 606.7,1050.9 606.9,1052.4 607.1,1053.9 607.3,1055.3 607.5,1056.5 607.8,1057.7 608,1058.8 608.2,1059.8 608.4,1060.8 608.6,1061.7 608.9,1062.5 609.1,1063.2 609.3,1064 609.5,1064.6 609.7,1065.3 609.9,1065.8 610.2,1066.4 610.4,1066.9 610.6,1067.4 610.8,1067.8 611,1068.2 611.3,1068.6 611.5,1069 611.7,1069.3 611.9,1069.6 612.1,1069.9 612.4,1070.2 612.6,1070.5 612.8,1051.8 613,1028.9 613.2,1008 613.5,988.8 613.7,971.2 613.9,955 614.1,940.2 614.3,926.7 614.6,914.2 614.8,902.8 615,892.4 615.2,882.8 615.4,874 615.6,866 615.9,858.6 616.1,851.8 616.3,845.6 616.5,839.9 616.7,834.7 617,829.9 617.2,825.6 617.4,821.5 617.6,817.9 617.8,814.5 618.1,811.4 618.3,808.6 618.5,806 618.7,803.6 618.9,801.4 619.2,799.4 619.4,797.5 619.6,795.9 619.8,794.3 620,792.9 620.3,791.6 620.5,790.4 620.7,789.3 620.9,788.3 621.1,787.4 621.3,786.6 621.6,785.8 621.8,785.1 622,784.5 622.2,783.9 622.4,783.3 622.7,782.8 622.9,782.4 623.1,781.9 623.3,781.6 623.5,781.2 623.8,780.9 624,780.6 624.2,780.3 624.4,780.1 624.6,779.8 624.9,779.6 625.1,779.4 625.3,779.3 625.5,779.1 625.7,779 626,796.3 626.2,829.9 626.4,853.8 626.6,872.7 626.8,888.9 627,903.1 627.3,916.1 627.5,927.9 627.7,938.7 627.9,948.7 628.1,957.9 628.4,966.4 628.6,974.3 628.8,981.6 629,988.3 629.2,994.5 629.5,1000.2 629.7,1005.5 629.9,1010.4 630.1,1014.9 630.3,1019.1 630.6,1023 630.8,1026.6 631,1030 631.2,1033 631.4,1035.9 631.7,1038.6 631.9,1041 632.1,1043.3 632.3,1045.4 632.5,1047.4 632.7,1049.2 633,1050.9 633.2,1052.5 633.4,1053.9 633.6,1055.3 633.8,1056.6 634.1,1057.7 634.3,1058.8 634.5,1059.9 634.7,1060.8 634.9,1061.7 635.2,1062.5 635.4,1063.3 635.6,1064 635.8,1064.7 636,1065.3 636.3,1065.9 636.5,1066.4 636.7,1066.9 636.9,1067.4 637.1,1067.8 637.4,1068.2 637.6,1068.6 637.8,1069 638,1069.3 638.2,1069.6 638.4,1069.9 638.7,1070.2 638.9,1070.5 639.1,1070.7 639.3,1070.9 639.5,1071.2 639.8,1071.4 640,1071.5 640.2,1071.7 640.4,1071.9 640.6,1072 640.9,1072.2 641.1,1072.3 641.3,1072.5 641.5,1072.6 641.7,1072.7 642,1072.8 642.2,1072.9 642.4,1073 642.6,1073.1 642.8,1073.2 643.1,1073.3 643.3,1073.3 643.5,1073.4 643.7,1073.5 643.9,1073.5 644.1,1073.6 644.4,1073.7 644.6,1073.7 644.8,1073.8 645,1073.8 645.2,1073.9 645.5,1073.9 645.7,1073.9 645.9,1074 646.1,1074 646.3,1074 646.6,1074.1 646.8,1074.1 647,1074.1 647.2,1074.2 647.4,1074.2 647.7,1074.2 647.9,1074.2 648.1,1074.3 648.3,1074.3 648.5,1074.3 648.8,1074.3 649,1074.3 649.2,1074.3 649.4,1074.4 649.6,1074.4 649.8,1074.4 650.1,1074.4 650.3,1074.4 650.5,1074.4 650.7,1074.4 650.9,1074.5 651.2,1074.5 651.4,1074.5 651.6,1074.5 651.8,1074.5 652,1074.5 652.3,1074.5 652.5,1074.5 652.7,1074.5"/></g>
<path d="M100.2 457v-8.5M100.2 12.8v8.5M183.1 457v-8.5M183.1 12.8v8.5M265.9 457v-8.5M265.9 12.8v8.5M348.8 457v-8.5M348.8 12.8v8.5M431.6 457v-8.5M431.6 12.8v8.5M514.5 457v-8.5M514.5 12.8v8.5M597.4 457v-8.5M597.4 12.8v8.5M141.6 457v-4.5M141.6 12.8v4.5M224.5 457v-4.5M224.5 12.8v4.5M307.3 457v-4.5M307.3 12.8v4.5M390.2 457v-4.5M390.2 12.8v4.5M473.1 457v-4.5M473.1 12.8v4.5M555.9 457v-4.5M555.9 12.8v4.5M638.8 457v-4.5M638.8 12.8v4.5M100.2 457h8.5M652.6 457h-8.5M100.2 345.9h8.5M652.6 345.9h-8.5M100.2 234.9h8.5M652.6 234.9h-8.5M100.2 123.9h8.5M652.6 123.9h-8.5M100.2 12.8h8.5M652.6 12.8h-8.5M100.2 401.5h4.5M652.6 401.5h-4.5M100.2 290.4h4.5M652.6 290.4h-4.5M100.2 179.4h4.5M652.6 179.4h-4.5M100.2 68.3h4.5M652.6 68.3h-4.5" stroke="#000" stroke-width="1.8" fill="none"/><rect x="100.2" y="12.8" width="552.4" height="444.2" fill="none" stroke="#000" stroke-width="2.2"/><text transform="translate(100.2 490) scale(1 1.035)" font-size="29" text-anchor="middle">0</text><text transform="translate(183.1 490) scale(1 1.035)" font-size="29" text-anchor="middle">120</text><text transform="translate(265.9 490) scale(1 1.035)" font-size="29" text-anchor="middle">240</text><text transform="translate(348.8 490) scale(1 1.035)" font-size="29" text-anchor="middle">360</text><text transform="translate(431.6 490) scale(1 1.035)" font-size="29" text-anchor="middle">480</text><text transform="translate(514.5 490) scale(1 1.035)" font-size="29" text-anchor="middle">600</text><text transform="translate(597.4 490) scale(1 1.035)" font-size="29" text-anchor="middle">720</text><text transform="translate(90.3 466.1) scale(1 1.035)" font-size="29" text-anchor="end">20</text><text transform="translate(90.3 355.1) scale(1 1.035)" font-size="29" text-anchor="end">40</text><text transform="translate(90.3 244) scale(1 1.035)" font-size="29" text-anchor="end">60</text><text transform="translate(90.3 133) scale(1 1.035)" font-size="29" text-anchor="end">80</text><text transform="translate(90.3 21.9) scale(1 1.035)" font-size="29" text-anchor="end">100</text><text x="375.3" y="543.3" font-size="37.9" text-anchor="middle">Time [s]</text><text transform="translate(28.6 234.2) rotate(-90) scale(1 1.035)" font-size="38.2" text-anchor="middle">Temperature [<tspan font-size="21" dy="-13.8">o</tspan><tspan dy="13.8">C]</tspan></text>
<path d="M100.2 1110.2v-8.5M100.2 665.9v8.5M179.1 1110.2v-8.5M179.1 665.9v8.5M258.1 1110.2v-8.5M258.1 665.9v8.5M337 1110.2v-8.5M337 665.9v8.5M415.9 1110.2v-8.5M415.9 665.9v8.5M494.8 1110.2v-8.5M494.8 665.9v8.5M573.8 1110.2v-8.5M573.8 665.9v8.5M652.7 1110.2v-8.5M652.7 665.9v8.5M139.7 1110.2v-4.5M139.7 665.9v4.5M218.6 1110.2v-4.5M218.6 665.9v4.5M297.5 1110.2v-4.5M297.5 665.9v4.5M376.4 1110.2v-4.5M376.4 665.9v4.5M455.4 1110.2v-4.5M455.4 665.9v4.5M534.3 1110.2v-4.5M534.3 665.9v4.5M613.2 1110.2v-4.5M613.2 665.9v4.5M100.2 1110.2h8.5M652.7 1110.2h-8.5M100.2 999.1h8.5M652.7 999.1h-8.5M100.2 888h8.5M652.7 888h-8.5M100.2 777h8.5M652.7 777h-8.5M100.2 665.9h8.5M652.7 665.9h-8.5M100.2 1054.7h4.5M652.7 1054.7h-4.5M100.2 943.6h4.5M652.7 943.6h-4.5M100.2 832.5h4.5M652.7 832.5h-4.5M100.2 721.4h4.5M652.7 721.4h-4.5" stroke="#000" stroke-width="1.8" fill="none"/><rect x="100.2" y="665.9" width="552.5" height="444.3" fill="none" stroke="#000" stroke-width="2.2"/><text transform="translate(100.2 1143.2) scale(1 1.035)" font-size="29" text-anchor="middle">0</text><text transform="translate(179.1 1143.2) scale(1 1.035)" font-size="29" text-anchor="middle">360</text><text transform="translate(258.1 1143.2) scale(1 1.035)" font-size="29" text-anchor="middle">720</text><text transform="translate(337 1143.2) scale(1 1.035)" font-size="29" text-anchor="middle">1080</text><text transform="translate(415.9 1143.2) scale(1 1.035)" font-size="29" text-anchor="middle">1440</text><text transform="translate(494.8 1143.2) scale(1 1.035)" font-size="29" text-anchor="middle">1800</text><text transform="translate(573.8 1143.2) scale(1 1.035)" font-size="29" text-anchor="middle">2160</text><text transform="translate(652.7 1143.2) scale(1 1.035)" font-size="29" text-anchor="middle">2520</text><text transform="translate(90.3 1119.3) scale(1 1.035)" font-size="29" text-anchor="end">20</text><text transform="translate(90.3 1008.2) scale(1 1.035)" font-size="29" text-anchor="end">40</text><text transform="translate(90.3 897.1) scale(1 1.035)" font-size="29" text-anchor="end">60</text><text transform="translate(90.3 786.1) scale(1 1.035)" font-size="29" text-anchor="end">80</text><text transform="translate(90.3 675) scale(1 1.035)" font-size="29" text-anchor="end">100</text><text x="375.3" y="1196.5" font-size="37.9" text-anchor="middle">Time [s]</text><text transform="translate(28.6 887.3) rotate(-90) scale(1 1.035)" font-size="38.2" text-anchor="middle">Temperature [<tspan font-size="21" dy="-13.8">o</tspan><tspan dy="13.8">C]</tspan></text>
<polyline fill="none" stroke="#ff0000" stroke-width="3" stroke-linecap="round" marker-mid="url(#mr)" points="139.5,61 172,61 205,61"/>
<text transform="translate(214.2 71.3) scale(1 1.035)" font-size="29" text-anchor="start">1.6</text>
<text class="s" transform="translate(260.7 71.3) scale(1.14 1)" font-size="29.5">Ω</text>
<polyline fill="none" stroke="#0000ff" stroke-width="3" stroke-linecap="round" marker-mid="url(#mb)" points="139.5,100.7 172,100.7 205,100.7"/>
<text transform="translate(214.2 111) scale(1 1.035)" font-size="29" text-anchor="start">5.5</text>
<text class="s" transform="translate(260.7 111) scale(1.14 1)" font-size="29.5">Ω</text>
<polyline fill="none" stroke="#000000" stroke-width="3" stroke-linecap="round" marker-mid="url(#mk)" points="139.5,140.5 172,140.5 205,140.5"/>
<text transform="translate(216 150.8) scale(1 1.035)" font-size="29" text-anchor="start">11.5</text>
<text class="s" transform="translate(277.9 150.8) scale(1.14 1)" font-size="29.5">Ω</text>
<text transform="translate(170.3 397) scale(1 1.035)" font-size="29.0" text-anchor="middle">0.5 V</text>
<text transform="translate(251.7 361.6) scale(1 1.035)" font-size="29.0" text-anchor="middle">1.0 V</text>
<text transform="translate(338.5 309) scale(1 1.035)" font-size="29.0" text-anchor="middle">1.5 V</text>
<text transform="translate(424.3 247.3) scale(1 1.035)" font-size="29.0" text-anchor="middle">2.0 V</text>
<text transform="translate(507.2 177.5) scale(1 1.035)" font-size="29.0" text-anchor="middle">2.5 V</text>
<text transform="translate(590.5 99) scale(1 1.035)" font-size="29.0" text-anchor="middle">3.0 V</text>
<text class="s" x="360.3" y="587.5" font-size="30" text-anchor="middle">(a)</text>
<text class="s" x="360.3" y="1240.5" font-size="30" text-anchor="middle">(b)</text>
</svg></body></html>
